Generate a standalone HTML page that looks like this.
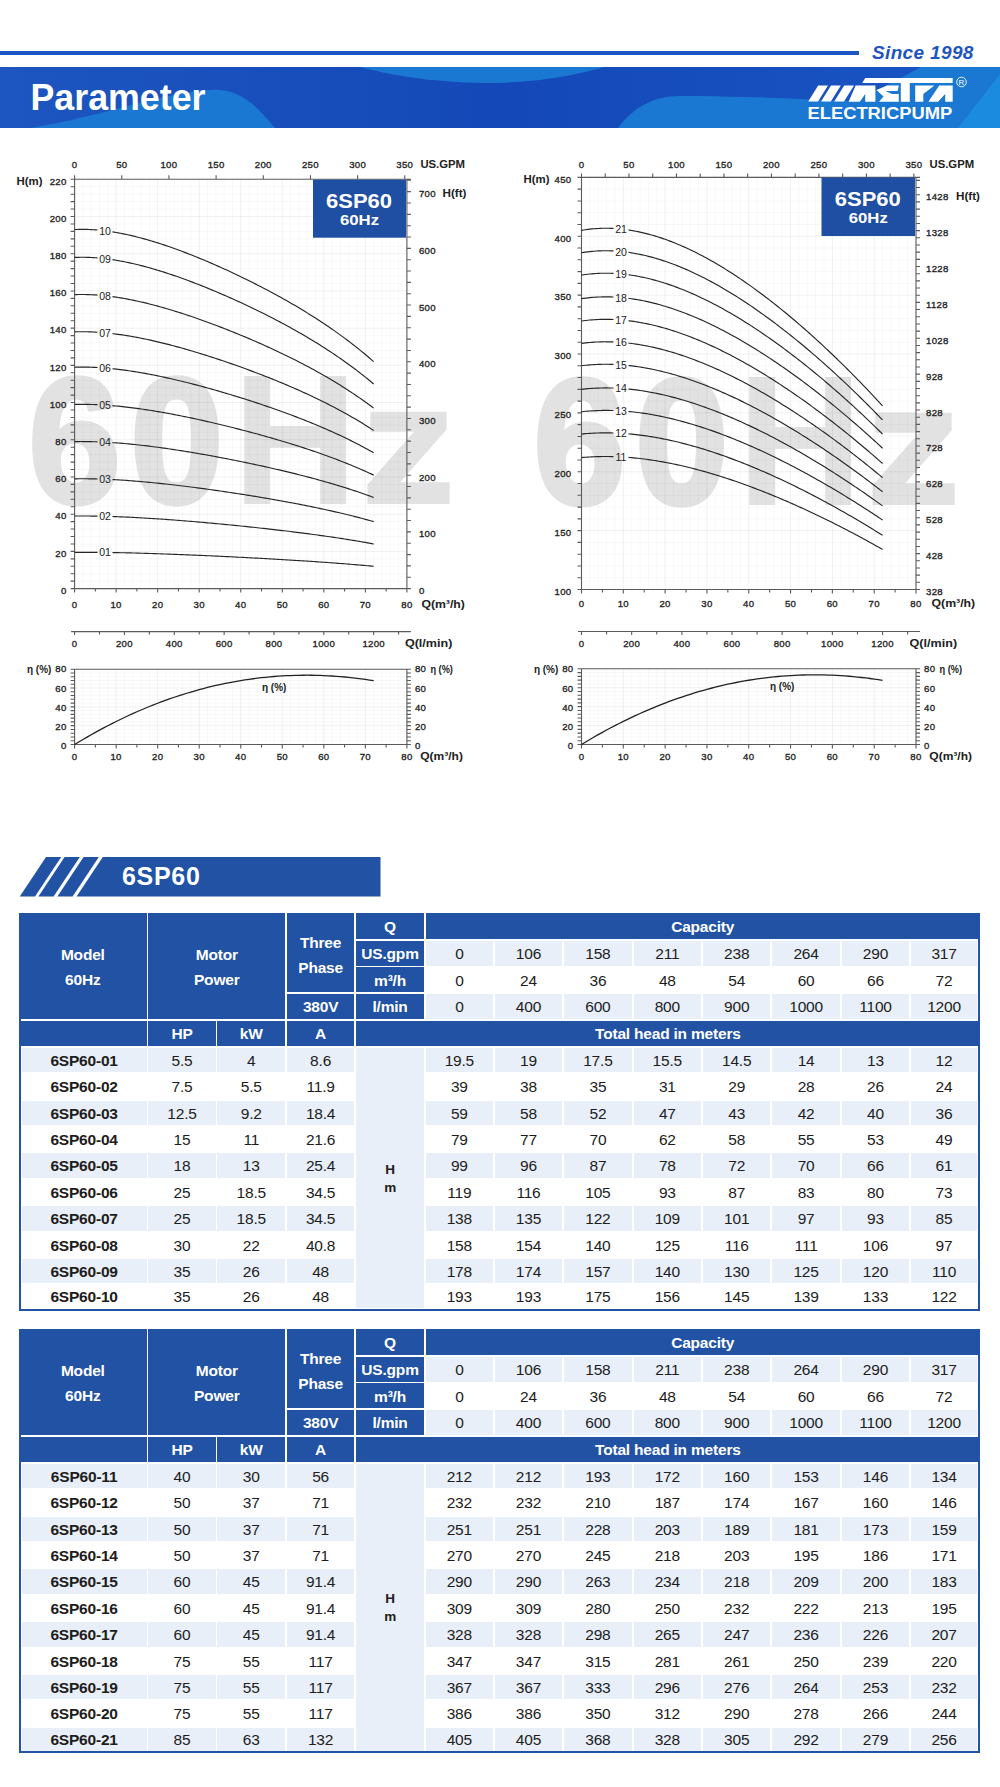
<!DOCTYPE html>
<html><head><meta charset="utf-8"><style>
html,body{margin:0;padding:0;background:#fff}
body{width:1000px;height:1787px;position:relative;overflow:hidden;font-family:"Liberation Sans",sans-serif}
.c{position:absolute;display:flex;align-items:center;justify-content:center;text-align:center;font-size:15.5px;line-height:18px;color:#211c1c;white-space:nowrap;box-sizing:border-box;padding-top:1.5px;letter-spacing:-0.2px}
</style></head><body>
<div style="position:absolute;left:0;top:51px;width:859px;height:3.5px;background:#1d55c2"></div>
<div style="position:absolute;left:872px;top:39.5px;font:italic bold 19px/26px 'Liberation Sans', sans-serif;color:#1e55c0;letter-spacing:0.35px;white-space:nowrap">Since 1998</div>
<svg style="position:absolute;left:0;top:67px" width="1000" height="61" viewBox="0 67 1000 61">
<defs><linearGradient id="bg" x1="0" y1="0" x2="1" y2="0"><stop offset="0" stop-color="#1d56c0"/><stop offset="0.5" stop-color="#1448b8"/><stop offset="1" stop-color="#1a55c4"/></linearGradient></defs>
<rect x="0" y="67" width="1000" height="61" fill="url(#bg)"/>
<path d="M30 128 C100 117 160 93 210 90 C242 88 258 108 275 128 Z" fill="#1a78d2"/>
<path d="M360 67 C400 78 450 83 488 83 C530 83 575 76 604 67 Z" fill="#1a78d2"/>
<path d="M618 128 C632 109 652 96 680 96 C740 96 800 99 850 101 C880 90 900 78 921 67 L1000 67 L1000 128 Z" fill="#1a78d2"/>
<path d="M958 128 L1000 74 L1000 128 Z" fill="#1b8be0"/>
</svg>
<svg style="position:absolute;left:0;top:67px" width="300" height="61" viewBox="0 67 300 61"><text x="30.5" y="110" font-family="Liberation Sans" font-weight="bold" font-size="37.5" fill="#fff" textLength="175" lengthAdjust="spacingAndGlyphs">Parameter</text></svg>
<svg style="position:absolute;left:800px;top:70px" width="180" height="55" viewBox="800 70 180 55">
<polygon points="808.2,101.6 818,101.6 828,85.6 818.2,85.6" fill="#fff"/><polygon points="821,101.6 830.8,101.6 840.8,85.6 831,85.6" fill="#fff"/><polygon points="834.2,101.6 844,101.6 854,85.6 844.2,85.6" fill="#fff"/><polygon points="862.2,82.95 865.2,78.1 952.7,78.1 952.7,82.95" fill="#fff"/><polygon points="848.6,101.8 855.6,85.6 875.4,85.6 875.4,101.8 865.2,101.8 865.2,94 859.8,101.8" fill="#fff"/><polygon points="887.2,85.6 898.8,85.6 897.6,91 885.6,91 892,94 898.8,94 898.8,101.8 879,101.8 883.5,96.5 876.5,90" fill="#fff"/><polygon points="900.8,82.9 909.8,82.9 909.8,101.8 900.8,101.8" fill="#fff"/><polygon points="915.2,85.6 934.4,85.6 923.3,94 923.3,101.8 915.2,101.8" fill="#fff"/><polygon points="939.2,85.6 952.7,85.6 952.7,101.8 945.2,101.8 945.2,94 938,101.8 928.4,101.8" fill="#fff"/>
<circle cx="961.5" cy="82" r="4.8" fill="none" stroke="#fff" stroke-width="0.9"/>
<text x="961.5" y="85" font-family="Liberation Sans" font-size="8" fill="#fff" text-anchor="middle">R</text>
</svg>
<svg style="position:absolute;left:800px;top:100px" width="200" height="25" viewBox="800 100 200 25"><text x="807.5" y="118.5" font-family="Liberation Sans" font-weight="bold" font-size="16" fill="#fff" textLength="144.7" lengthAdjust="spacingAndGlyphs">ELECTRICPUMP</text></svg>
<svg style="position:absolute;left:0;top:0" width="1000" height="800" viewBox="0 0 1000 800">
<text x="0" y="0" transform="matrix(0.93 0 0 1 28.56 501.56)" font-family="Liberation Sans" font-weight="bold" font-size="177.96" fill="#e2e2e2" stroke="#e2e2e2" stroke-width="5" stroke-linejoin="round">6</text><text x="0" y="0" transform="matrix(0.94 0 0 1 130.27 501.56)" font-family="Liberation Sans" font-weight="bold" font-size="177.96" fill="#e2e2e2" stroke="#e2e2e2" stroke-width="5" stroke-linejoin="round">0</text><polygon points="244.3,376 270.2,376 270.2,426 320.2,426 320.2,376 346.1,376 346.1,504.1 320.2,504.1 320.2,447.8 270.2,447.8 270.2,504.1 244.3,504.1" fill="#e2e2e2"/><polygon points="370.3,411.7 446.6,411.7 446.6,429.4 400.2,482.3 449.6,482.3 449.6,504.1 367.5,504.1 367.5,484.6 414,431.7 370.3,431.7" fill="#e2e2e2"/><path d="M82.91 179.3V588.6M91.21 179.3V588.6M99.52 179.3V588.6M107.83 179.3V588.6M124.44 179.3V588.6M132.75 179.3V588.6M141.06 179.3V588.6M149.37 179.3V588.6M165.98 179.3V588.6M174.29 179.3V588.6M182.6 179.3V588.6M190.9 179.3V588.6M207.52 179.3V588.6M215.83 179.3V588.6M224.13 179.3V588.6M232.44 179.3V588.6M249.06 179.3V588.6M257.37 179.3V588.6M265.67 179.3V588.6M273.98 179.3V588.6M290.59 179.3V588.6M298.9 179.3V588.6M307.21 179.3V588.6M315.52 179.3V588.6M332.13 179.3V588.6M340.44 179.3V588.6M348.75 179.3V588.6M357.05 179.3V588.6M373.67 179.3V588.6M381.98 179.3V588.6M390.28 179.3V588.6M398.59 179.3V588.6M74.6 581.16H406.9M74.6 573.72H406.9M74.6 566.27H406.9M74.6 558.83H406.9M74.6 543.95H406.9M74.6 536.51H406.9M74.6 529.07H406.9M74.6 521.62H406.9M74.6 506.74H406.9M74.6 499.3H406.9M74.6 491.86H406.9M74.6 484.41H406.9M74.6 469.53H406.9M74.6 462.09H406.9M74.6 454.65H406.9M74.6 447.21H406.9M74.6 432.32H406.9M74.6 424.88H406.9M74.6 417.44H406.9M74.6 410H406.9M74.6 395.11H406.9M74.6 387.67H406.9M74.6 380.23H406.9M74.6 372.79H406.9M74.6 357.9H406.9M74.6 350.46H406.9M74.6 343.02H406.9M74.6 335.58H406.9M74.6 320.69H406.9M74.6 313.25H406.9M74.6 305.81H406.9M74.6 298.37H406.9M74.6 283.49H406.9M74.6 276.04H406.9M74.6 268.6H406.9M74.6 261.16H406.9M74.6 246.28H406.9M74.6 238.83H406.9M74.6 231.39H406.9M74.6 223.95H406.9M74.6 209.07H406.9M74.6 201.63H406.9M74.6 194.18H406.9M74.6 186.74H406.9" stroke="#000" stroke-opacity="0.04" stroke-width="0.8" fill="none"/><path d="M116.14 179.3V588.6M157.67 179.3V588.6M199.21 179.3V588.6M240.75 179.3V588.6M282.29 179.3V588.6M323.82 179.3V588.6M365.36 179.3V588.6M74.6 551.39H406.9M74.6 514.18H406.9M74.6 476.97H406.9M74.6 439.76H406.9M74.6 402.55H406.9M74.6 365.35H406.9M74.6 328.14H406.9M74.6 290.93H406.9M74.6 253.72H406.9M74.6 216.51H406.9" stroke="#000" stroke-opacity="0.08" stroke-width="0.8" fill="none"/><path d="M70.6 179.3H410.9M70.6 588.6H406.9M74.6 179.3V592.6M406.9 179.3V592.6M70.6 588.6H74.6M70.6 581.16H74.6M70.6 573.72H74.6M70.6 566.27H74.6M70.6 558.83H74.6M70.6 551.39H74.6M70.6 543.95H74.6M70.6 536.51H74.6M70.6 529.07H74.6M70.6 521.62H74.6M70.6 514.18H74.6M70.6 506.74H74.6M70.6 499.3H74.6M70.6 491.86H74.6M70.6 484.41H74.6M70.6 476.97H74.6M70.6 469.53H74.6M70.6 462.09H74.6M70.6 454.65H74.6M70.6 447.21H74.6M70.6 439.76H74.6M70.6 432.32H74.6M70.6 424.88H74.6M70.6 417.44H74.6M70.6 410H74.6M70.6 402.55H74.6M70.6 395.11H74.6M70.6 387.67H74.6M70.6 380.23H74.6M70.6 372.79H74.6M70.6 365.35H74.6M70.6 357.9H74.6M70.6 350.46H74.6M70.6 343.02H74.6M70.6 335.58H74.6M70.6 328.14H74.6M70.6 320.69H74.6M70.6 313.25H74.6M70.6 305.81H74.6M70.6 298.37H74.6M70.6 290.93H74.6M70.6 283.49H74.6M70.6 276.04H74.6M70.6 268.6H74.6M70.6 261.16H74.6M70.6 253.72H74.6M70.6 246.28H74.6M70.6 238.83H74.6M70.6 231.39H74.6M70.6 223.95H74.6M70.6 216.51H74.6M70.6 209.07H74.6M70.6 201.63H74.6M70.6 194.18H74.6M70.6 186.74H74.6M70.6 179.3H74.6M74.6 588.6V592.6M95.37 588.6V591.6M116.14 588.6V592.6M136.91 588.6V591.6M157.67 588.6V592.6M178.44 588.6V591.6M199.21 588.6V592.6M219.98 588.6V591.6M240.75 588.6V592.6M261.52 588.6V591.6M282.29 588.6V592.6M303.06 588.6V591.6M323.82 588.6V592.6M344.59 588.6V591.6M365.36 588.6V592.6M386.13 588.6V591.6M406.9 588.6V592.6M74.6 175.3V179.3M121.77 175.3V179.3M168.94 175.3V179.3M216.11 175.3V179.3M263.28 175.3V179.3M310.45 175.3V179.3M357.63 175.3V179.3M404.8 175.3V179.3M406.9 588.6H410.9M406.9 577.26H410.9M406.9 565.92H410.9M406.9 554.58H410.9M406.9 543.23H410.9M406.9 531.89H410.9M406.9 520.55H410.9M406.9 509.21H410.9M406.9 497.87H410.9M406.9 486.53H410.9M406.9 475.19H410.9M406.9 463.85H410.9M406.9 452.5H410.9M406.9 441.16H410.9M406.9 429.82H410.9M406.9 418.48H410.9M406.9 407.14H410.9M406.9 395.8H410.9M406.9 384.46H410.9M406.9 373.11H410.9M406.9 361.77H410.9M406.9 350.43H410.9M406.9 339.09H410.9M406.9 327.75H410.9M406.9 316.41H410.9M406.9 305.07H410.9M406.9 293.73H410.9M406.9 282.38H410.9M406.9 271.04H410.9M406.9 259.7H410.9M406.9 248.36H410.9M406.9 237.02H410.9M406.9 225.68H410.9M406.9 214.34H410.9M406.9 202.99H410.9M406.9 191.65H410.9M406.9 180.31H410.9" stroke="#5a5a5a" stroke-width="1.1" fill="none"/><g font-family="Liberation Sans"><text x="74.6" y="608" text-anchor="middle" font-size="9.6" font-weight="normal" fill="#262626" letter-spacing="0.3" stroke="#262626" stroke-width="0.35">0</text><text x="116.14" y="608" text-anchor="middle" font-size="9.6" font-weight="normal" fill="#262626" letter-spacing="0.3" stroke="#262626" stroke-width="0.35">10</text><text x="157.67" y="608" text-anchor="middle" font-size="9.6" font-weight="normal" fill="#262626" letter-spacing="0.3" stroke="#262626" stroke-width="0.35">20</text><text x="199.21" y="608" text-anchor="middle" font-size="9.6" font-weight="normal" fill="#262626" letter-spacing="0.3" stroke="#262626" stroke-width="0.35">30</text><text x="240.75" y="608" text-anchor="middle" font-size="9.6" font-weight="normal" fill="#262626" letter-spacing="0.3" stroke="#262626" stroke-width="0.35">40</text><text x="282.29" y="608" text-anchor="middle" font-size="9.6" font-weight="normal" fill="#262626" letter-spacing="0.3" stroke="#262626" stroke-width="0.35">50</text><text x="323.82" y="608" text-anchor="middle" font-size="9.6" font-weight="normal" fill="#262626" letter-spacing="0.3" stroke="#262626" stroke-width="0.35">60</text><text x="365.36" y="608" text-anchor="middle" font-size="9.6" font-weight="normal" fill="#262626" letter-spacing="0.3" stroke="#262626" stroke-width="0.35">70</text><text x="406.9" y="608" text-anchor="middle" font-size="9.6" font-weight="normal" fill="#262626" letter-spacing="0.3" stroke="#262626" stroke-width="0.35">80</text><text x="421.4" y="608.3" text-anchor="start" font-size="11" font-weight="bold" fill="#222" textLength="43.5" lengthAdjust="spacingAndGlyphs">Q(m&#179;/h)</text><text x="66.6" y="593.9" text-anchor="end" font-size="9.6" font-weight="normal" fill="#262626" letter-spacing="0.3" stroke="#262626" stroke-width="0.35">0</text><text x="66.6" y="556.69" text-anchor="end" font-size="9.6" font-weight="normal" fill="#262626" letter-spacing="0.3" stroke="#262626" stroke-width="0.35">20</text><text x="66.6" y="519.48" text-anchor="end" font-size="9.6" font-weight="normal" fill="#262626" letter-spacing="0.3" stroke="#262626" stroke-width="0.35">40</text><text x="66.6" y="482.27" text-anchor="end" font-size="9.6" font-weight="normal" fill="#262626" letter-spacing="0.3" stroke="#262626" stroke-width="0.35">60</text><text x="66.6" y="445.06" text-anchor="end" font-size="9.6" font-weight="normal" fill="#262626" letter-spacing="0.3" stroke="#262626" stroke-width="0.35">80</text><text x="66.6" y="407.85" text-anchor="end" font-size="9.6" font-weight="normal" fill="#262626" letter-spacing="0.3" stroke="#262626" stroke-width="0.35">100</text><text x="66.6" y="370.65" text-anchor="end" font-size="9.6" font-weight="normal" fill="#262626" letter-spacing="0.3" stroke="#262626" stroke-width="0.35">120</text><text x="66.6" y="333.44" text-anchor="end" font-size="9.6" font-weight="normal" fill="#262626" letter-spacing="0.3" stroke="#262626" stroke-width="0.35">140</text><text x="66.6" y="296.23" text-anchor="end" font-size="9.6" font-weight="normal" fill="#262626" letter-spacing="0.3" stroke="#262626" stroke-width="0.35">160</text><text x="66.6" y="259.02" text-anchor="end" font-size="9.6" font-weight="normal" fill="#262626" letter-spacing="0.3" stroke="#262626" stroke-width="0.35">180</text><text x="66.6" y="221.81" text-anchor="end" font-size="9.6" font-weight="normal" fill="#262626" letter-spacing="0.3" stroke="#262626" stroke-width="0.35">200</text><text x="66.6" y="184.6" text-anchor="end" font-size="9.6" font-weight="normal" fill="#262626" letter-spacing="0.3" stroke="#262626" stroke-width="0.35">220</text><text x="16.5" y="184.6" text-anchor="start" font-size="11" font-weight="bold" fill="#222" textLength="26" lengthAdjust="spacingAndGlyphs">H(m)</text><text x="74.6" y="168.1" text-anchor="middle" font-size="9.6" font-weight="normal" fill="#262626" letter-spacing="0.3" stroke="#262626" stroke-width="0.35">0</text><text x="121.77" y="168.1" text-anchor="middle" font-size="9.6" font-weight="normal" fill="#262626" letter-spacing="0.3" stroke="#262626" stroke-width="0.35">50</text><text x="168.94" y="168.1" text-anchor="middle" font-size="9.6" font-weight="normal" fill="#262626" letter-spacing="0.3" stroke="#262626" stroke-width="0.35">100</text><text x="216.11" y="168.1" text-anchor="middle" font-size="9.6" font-weight="normal" fill="#262626" letter-spacing="0.3" stroke="#262626" stroke-width="0.35">150</text><text x="263.28" y="168.1" text-anchor="middle" font-size="9.6" font-weight="normal" fill="#262626" letter-spacing="0.3" stroke="#262626" stroke-width="0.35">200</text><text x="310.45" y="168.1" text-anchor="middle" font-size="9.6" font-weight="normal" fill="#262626" letter-spacing="0.3" stroke="#262626" stroke-width="0.35">250</text><text x="357.63" y="168.1" text-anchor="middle" font-size="9.6" font-weight="normal" fill="#262626" letter-spacing="0.3" stroke="#262626" stroke-width="0.35">300</text><text x="404.8" y="168.1" text-anchor="middle" font-size="9.6" font-weight="normal" fill="#262626" letter-spacing="0.3" stroke="#262626" stroke-width="0.35">350</text><text x="420.4" y="168.3" text-anchor="start" font-size="10.5" font-weight="bold" fill="#222" textLength="44.6" lengthAdjust="spacingAndGlyphs">US.GPM</text><text x="418.9" y="594.1" text-anchor="start" font-size="9.6" font-weight="normal" fill="#262626" letter-spacing="0.3" stroke="#262626" stroke-width="0.35">0</text><text x="418.9" y="537.39" text-anchor="start" font-size="9.6" font-weight="normal" fill="#262626" letter-spacing="0.3" stroke="#262626" stroke-width="0.35">100</text><text x="418.9" y="480.69" text-anchor="start" font-size="9.6" font-weight="normal" fill="#262626" letter-spacing="0.3" stroke="#262626" stroke-width="0.35">200</text><text x="418.9" y="423.98" text-anchor="start" font-size="9.6" font-weight="normal" fill="#262626" letter-spacing="0.3" stroke="#262626" stroke-width="0.35">300</text><text x="418.9" y="367.27" text-anchor="start" font-size="9.6" font-weight="normal" fill="#262626" letter-spacing="0.3" stroke="#262626" stroke-width="0.35">400</text><text x="418.9" y="310.57" text-anchor="start" font-size="9.6" font-weight="normal" fill="#262626" letter-spacing="0.3" stroke="#262626" stroke-width="0.35">500</text><text x="418.9" y="253.86" text-anchor="start" font-size="9.6" font-weight="normal" fill="#262626" letter-spacing="0.3" stroke="#262626" stroke-width="0.35">600</text><text x="418.9" y="197.15" text-anchor="start" font-size="9.6" font-weight="normal" fill="#262626" letter-spacing="0.3" stroke="#262626" stroke-width="0.35">700</text><text x="442.5" y="197.15" text-anchor="start" font-size="11" font-weight="bold" fill="#222" textLength="24" lengthAdjust="spacingAndGlyphs">H(ft)</text></g><path d="M74.6 552.32 L76.68 552.31 L78.75 552.31 L80.83 552.3 L82.91 552.3 L84.98 552.31 L87.06 552.31 L89.14 552.32 L91.21 552.33 L93.29 552.34 L95.37 552.36 L97.45 552.37 L97.5 552.37M112.5 552.57 L114.06 552.6 L116.14 552.63 L118.21 552.67 L120.29 552.71 L122.37 552.76 L124.44 552.8 L126.52 552.85 L128.6 552.89 L130.68 552.94 L132.75 553 L134.83 553.05 L136.91 553.1 L138.98 553.16 L141.06 553.22 L143.14 553.28 L145.21 553.34 L147.29 553.4 L149.37 553.46 L151.44 553.53 L153.52 553.59 L155.6 553.66 L157.67 553.73 L159.75 553.8 L161.83 553.87 L163.91 553.95 L165.98 554.02 L168.06 554.09 L170.14 554.17 L172.21 554.25 L174.29 554.33 L176.37 554.4 L178.44 554.48 L180.52 554.57 L182.6 554.65 L184.67 554.73 L186.75 554.82 L188.83 554.9 L190.9 554.99 L192.98 555.07 L195.06 555.16 L197.14 555.25 L199.21 555.34 L201.29 555.43 L203.37 555.52 L205.44 555.61 L207.52 555.71 L209.6 555.8 L211.67 555.9 L213.75 555.99 L215.83 556.09 L217.9 556.18 L219.98 556.28 L222.06 556.38 L224.13 556.48 L226.21 556.58 L228.29 556.68 L230.37 556.78 L232.44 556.88 L234.52 556.99 L236.6 557.09 L238.67 557.2 L240.75 557.3 L242.83 557.41 L244.9 557.51 L246.98 557.62 L249.06 557.73 L251.13 557.84 L253.21 557.95 L255.29 558.06 L257.37 558.17 L259.44 558.29 L261.52 558.4 L263.6 558.51 L265.67 558.63 L267.75 558.74 L269.83 558.86 L271.9 558.98 L273.98 559.1 L276.06 559.21 L278.13 559.33 L280.21 559.46 L282.29 559.58 L284.36 559.7 L286.44 559.83 L288.52 559.95 L290.59 560.08 L292.67 560.2 L294.75 560.33 L296.83 560.46 L298.9 560.59 L300.98 560.72 L303.06 560.86 L305.13 560.99 L307.21 561.12 L309.29 561.26 L311.36 561.4 L313.44 561.54 L315.52 561.68 L317.59 561.82 L319.67 561.96 L321.75 562.11 L323.82 562.25 L325.9 562.4 L327.98 562.55 L330.06 562.7 L332.13 562.85 L334.21 563 L336.29 563.16 L338.36 563.31 L340.44 563.47 L342.52 563.63 L344.59 563.79 L346.67 563.96 L348.75 564.12 L350.82 564.29 L352.9 564.46 L354.98 564.63 L357.05 564.81 L359.13 564.98 L361.21 565.16 L363.29 565.34 L365.36 565.52 L367.44 565.71 L369.52 565.89 L371.59 566.08 L373.67 566.27M74.6 516.04 L76.68 516.02 L78.75 516.01 L80.83 516.01 L82.91 516.01 L84.98 516.01 L87.06 516.02 L89.14 516.04 L91.21 516.06 L93.29 516.08 L95.37 516.11 L97.45 516.15 L97.5 516.15M112.5 516.54 L114.06 516.59 L116.14 516.67 L118.21 516.74 L120.29 516.83 L122.37 516.91 L124.44 517 L126.52 517.09 L128.6 517.19 L130.68 517.29 L132.75 517.39 L134.83 517.5 L136.91 517.61 L138.98 517.72 L141.06 517.84 L143.14 517.95 L145.21 518.08 L147.29 518.2 L149.37 518.33 L151.44 518.46 L153.52 518.59 L155.6 518.73 L157.67 518.86 L159.75 519 L161.83 519.15 L163.91 519.29 L165.98 519.44 L168.06 519.59 L170.14 519.74 L172.21 519.89 L174.29 520.05 L176.37 520.21 L178.44 520.37 L180.52 520.53 L182.6 520.7 L184.67 520.86 L186.75 521.03 L188.83 521.2 L190.9 521.37 L192.98 521.55 L195.06 521.72 L197.14 521.9 L199.21 522.08 L201.29 522.26 L203.37 522.44 L205.44 522.63 L207.52 522.81 L209.6 523 L211.67 523.19 L213.75 523.38 L215.83 523.57 L217.9 523.77 L219.98 523.96 L222.06 524.16 L224.13 524.36 L226.21 524.56 L228.29 524.76 L230.37 524.96 L232.44 525.17 L234.52 525.38 L236.6 525.58 L238.67 525.79 L240.75 526 L242.83 526.22 L244.9 526.43 L246.98 526.64 L249.06 526.86 L251.13 527.08 L253.21 527.3 L255.29 527.52 L257.37 527.75 L259.44 527.97 L261.52 528.2 L263.6 528.42 L265.67 528.65 L267.75 528.89 L269.83 529.12 L271.9 529.35 L273.98 529.59 L276.06 529.83 L278.13 530.07 L280.21 530.31 L282.29 530.56 L284.36 530.8 L286.44 531.05 L288.52 531.3 L290.59 531.55 L292.67 531.81 L294.75 532.06 L296.83 532.32 L298.9 532.58 L300.98 532.85 L303.06 533.11 L305.13 533.38 L307.21 533.65 L309.29 533.92 L311.36 534.2 L313.44 534.47 L315.52 534.75 L317.59 535.04 L319.67 535.32 L321.75 535.61 L323.82 535.9 L325.9 536.2 L327.98 536.49 L330.06 536.79 L332.13 537.1 L334.21 537.41 L336.29 537.72 L338.36 538.03 L340.44 538.35 L342.52 538.67 L344.59 538.99 L346.67 539.32 L348.75 539.65 L350.82 539.98 L352.9 540.32 L354.98 540.67 L357.05 541.01 L359.13 541.36 L361.21 541.72 L363.29 542.08 L365.36 542.44 L367.44 542.81 L369.52 543.19 L371.59 543.57 L373.67 543.95M74.6 478.83 L76.68 478.81 L78.75 478.79 L80.83 478.78 L82.91 478.78 L84.98 478.79 L87.06 478.8 L89.14 478.82 L91.21 478.86 L93.29 478.9 L95.37 478.94 L97.45 479 L97.5 479M112.5 479.59 L114.06 479.68 L116.14 479.79 L118.21 479.91 L120.29 480.03 L122.37 480.17 L124.44 480.3 L126.52 480.44 L128.6 480.59 L130.68 480.74 L132.75 480.9 L134.83 481.07 L136.91 481.23 L138.98 481.41 L141.06 481.58 L143.14 481.77 L145.21 481.95 L147.29 482.14 L149.37 482.34 L151.44 482.54 L153.52 482.74 L155.6 482.95 L157.67 483.16 L159.75 483.37 L161.83 483.59 L163.91 483.81 L165.98 484.04 L168.06 484.27 L170.14 484.5 L172.21 484.74 L174.29 484.98 L176.37 485.22 L178.44 485.47 L180.52 485.72 L182.6 485.97 L184.67 486.22 L186.75 486.48 L188.83 486.74 L190.9 487.01 L192.98 487.27 L195.06 487.54 L197.14 487.82 L199.21 488.09 L201.29 488.37 L203.37 488.65 L205.44 488.93 L207.52 489.22 L209.6 489.5 L211.67 489.79 L213.75 490.09 L215.83 490.38 L217.9 490.68 L219.98 490.98 L222.06 491.28 L224.13 491.59 L226.21 491.89 L228.29 492.2 L230.37 492.51 L232.44 492.83 L234.52 493.14 L236.6 493.46 L238.67 493.78 L240.75 494.11 L242.83 494.43 L244.9 494.76 L246.98 495.09 L249.06 495.42 L251.13 495.76 L253.21 496.1 L255.29 496.44 L257.37 496.78 L259.44 497.12 L261.52 497.47 L263.6 497.82 L265.67 498.17 L267.75 498.53 L269.83 498.88 L271.9 499.24 L273.98 499.61 L276.06 499.97 L278.13 500.34 L280.21 500.71 L282.29 501.09 L284.36 501.47 L286.44 501.85 L288.52 502.23 L290.59 502.62 L292.67 503.01 L294.75 503.4 L296.83 503.8 L298.9 504.19 L300.98 504.6 L303.06 505.01 L305.13 505.42 L307.21 505.83 L309.29 506.25 L311.36 506.67 L313.44 507.1 L315.52 507.52 L317.59 507.96 L319.67 508.4 L321.75 508.84 L323.82 509.29 L325.9 509.74 L327.98 510.19 L330.06 510.65 L332.13 511.12 L334.21 511.59 L336.29 512.07 L338.36 512.55 L340.44 513.03 L342.52 513.52 L344.59 514.02 L346.67 514.52 L348.75 515.03 L350.82 515.54 L352.9 516.06 L354.98 516.59 L357.05 517.12 L359.13 517.66 L361.21 518.21 L363.29 518.76 L365.36 519.32 L367.44 519.88 L369.52 520.46 L371.59 521.04 L373.67 521.62M74.6 441.62 L76.68 441.59 L78.75 441.57 L80.83 441.55 L82.91 441.55 L84.98 441.56 L87.06 441.58 L89.14 441.61 L91.21 441.65 L93.29 441.71 L95.37 441.77 L97.45 441.84 L97.5 441.84M112.5 442.62 L114.06 442.72 L116.14 442.87 L118.21 443.03 L120.29 443.19 L122.37 443.36 L124.44 443.54 L126.52 443.73 L128.6 443.92 L130.68 444.12 L132.75 444.32 L134.83 444.54 L136.91 444.75 L138.98 444.98 L141.06 445.21 L143.14 445.45 L145.21 445.69 L147.29 445.94 L149.37 446.19 L151.44 446.45 L153.52 446.72 L155.6 446.99 L157.67 447.27 L159.75 447.55 L161.83 447.83 L163.91 448.12 L165.98 448.42 L168.06 448.72 L170.14 449.02 L172.21 449.33 L174.29 449.64 L176.37 449.96 L178.44 450.28 L180.52 450.6 L182.6 450.93 L184.67 451.27 L186.75 451.6 L188.83 451.94 L190.9 452.29 L192.98 452.63 L195.06 452.99 L197.14 453.34 L199.21 453.7 L201.29 454.06 L203.37 454.43 L205.44 454.8 L207.52 455.17 L209.6 455.54 L211.67 455.92 L213.75 456.3 L215.83 456.69 L217.9 457.08 L219.98 457.47 L222.06 457.86 L224.13 458.26 L226.21 458.66 L228.29 459.06 L230.37 459.47 L232.44 459.88 L234.52 460.29 L236.6 460.71 L238.67 461.12 L240.75 461.55 L242.83 461.97 L244.9 462.4 L246.98 462.83 L249.06 463.26 L251.13 463.7 L253.21 464.14 L255.29 464.58 L257.37 465.03 L259.44 465.48 L261.52 465.93 L263.6 466.39 L265.67 466.85 L267.75 467.31 L269.83 467.78 L271.9 468.25 L273.98 468.72 L276.06 469.2 L278.13 469.68 L280.21 470.16 L282.29 470.65 L284.36 471.14 L286.44 471.64 L288.52 472.14 L290.59 472.65 L292.67 473.15 L294.75 473.67 L296.83 474.18 L298.9 474.7 L300.98 475.23 L303.06 475.76 L305.13 476.3 L307.21 476.84 L309.29 477.38 L311.36 477.93 L313.44 478.49 L315.52 479.05 L317.59 479.61 L319.67 480.19 L321.75 480.76 L323.82 481.35 L325.9 481.93 L327.98 482.53 L330.06 483.13 L332.13 483.74 L334.21 484.35 L336.29 484.97 L338.36 485.6 L340.44 486.23 L342.52 486.87 L344.59 487.52 L346.67 488.17 L348.75 488.84 L350.82 489.51 L352.9 490.19 L354.98 490.87 L357.05 491.57 L359.13 492.27 L361.21 492.98 L363.29 493.7 L365.36 494.43 L367.44 495.17 L369.52 495.91 L371.59 496.67 L373.67 497.44M74.6 404.42 L76.68 404.37 L78.75 404.34 L80.83 404.33 L82.91 404.32 L84.98 404.34 L87.06 404.36 L89.14 404.4 L91.21 404.45 L93.29 404.52 L95.37 404.59 L97.45 404.68 L97.5 404.69M112.5 405.67 L114.06 405.81 L116.14 405.99 L118.21 406.19 L120.29 406.4 L122.37 406.62 L124.44 406.84 L126.52 407.08 L128.6 407.32 L130.68 407.57 L132.75 407.83 L134.83 408.1 L136.91 408.38 L138.98 408.67 L141.06 408.96 L143.14 409.26 L145.21 409.57 L147.29 409.88 L149.37 410.2 L151.44 410.53 L153.52 410.87 L155.6 411.21 L157.67 411.56 L159.75 411.92 L161.83 412.28 L163.91 412.64 L165.98 413.02 L168.06 413.4 L170.14 413.78 L172.21 414.17 L174.29 414.57 L176.37 414.97 L178.44 415.38 L180.52 415.79 L182.6 416.21 L184.67 416.63 L186.75 417.05 L188.83 417.49 L190.9 417.92 L192.98 418.36 L195.06 418.81 L197.14 419.26 L199.21 419.71 L201.29 420.17 L203.37 420.63 L205.44 421.1 L207.52 421.57 L209.6 422.05 L211.67 422.53 L213.75 423.01 L215.83 423.5 L217.9 423.99 L219.98 424.48 L222.06 424.98 L224.13 425.49 L226.21 425.99 L228.29 426.5 L230.37 427.02 L232.44 427.54 L234.52 428.06 L236.6 428.59 L238.67 429.12 L240.75 429.65 L242.83 430.19 L244.9 430.73 L246.98 431.27 L249.06 431.82 L251.13 432.38 L253.21 432.94 L255.29 433.5 L257.37 434.06 L259.44 434.63 L261.52 435.21 L263.6 435.78 L265.67 436.37 L267.75 436.95 L269.83 437.54 L271.9 438.14 L273.98 438.74 L276.06 439.34 L278.13 439.95 L280.21 440.57 L282.29 441.18 L284.36 441.81 L286.44 442.44 L288.52 443.07 L290.59 443.71 L292.67 444.35 L294.75 445 L296.83 445.66 L298.9 446.32 L300.98 446.98 L303.06 447.66 L305.13 448.33 L307.21 449.02 L309.29 449.71 L311.36 450.41 L313.44 451.11 L315.52 451.82 L317.59 452.54 L319.67 453.26 L321.75 453.99 L323.82 454.73 L325.9 455.47 L327.98 456.23 L330.06 456.99 L332.13 457.76 L334.21 458.53 L336.29 459.32 L338.36 460.11 L340.44 460.92 L342.52 461.73 L344.59 462.55 L346.67 463.38 L348.75 464.22 L350.82 465.07 L352.9 465.93 L354.98 466.8 L357.05 467.68 L359.13 468.57 L361.21 469.47 L363.29 470.38 L365.36 471.3 L367.44 472.24 L369.52 473.18 L371.59 474.14 L373.67 475.11M74.6 367.21 L76.68 367.15 L78.75 367.12 L80.83 367.1 L82.91 367.1 L84.98 367.11 L87.06 367.14 L89.14 367.19 L91.21 367.25 L93.29 367.33 L95.37 367.42 L97.45 367.53 L97.5 367.53M112.5 368.73 L114.06 368.89 L116.14 369.12 L118.21 369.36 L120.29 369.61 L122.37 369.87 L124.44 370.14 L126.52 370.43 L128.6 370.72 L130.68 371.03 L132.75 371.35 L134.83 371.67 L136.91 372.01 L138.98 372.35 L141.06 372.71 L143.14 373.07 L145.21 373.44 L147.29 373.82 L149.37 374.21 L151.44 374.61 L153.52 375.02 L155.6 375.43 L157.67 375.86 L159.75 376.29 L161.83 376.72 L163.91 377.17 L165.98 377.62 L168.06 378.08 L170.14 378.55 L172.21 379.02 L174.29 379.5 L176.37 379.98 L178.44 380.48 L180.52 380.97 L182.6 381.48 L184.67 381.99 L186.75 382.51 L188.83 383.03 L190.9 383.56 L192.98 384.09 L195.06 384.63 L197.14 385.17 L199.21 385.72 L201.29 386.28 L203.37 386.84 L205.44 387.4 L207.52 387.97 L209.6 388.55 L211.67 389.13 L213.75 389.71 L215.83 390.3 L217.9 390.9 L219.98 391.5 L222.06 392.1 L224.13 392.71 L226.21 393.33 L228.29 393.94 L230.37 394.57 L232.44 395.2 L234.52 395.83 L236.6 396.47 L238.67 397.11 L240.75 397.75 L242.83 398.4 L244.9 399.06 L246.98 399.72 L249.06 400.39 L251.13 401.06 L253.21 401.73 L255.29 402.41 L257.37 403.09 L259.44 403.78 L261.52 404.48 L263.6 405.18 L265.67 405.88 L267.75 406.59 L269.83 407.31 L271.9 408.03 L273.98 408.76 L276.06 409.49 L278.13 410.22 L280.21 410.97 L282.29 411.72 L284.36 412.47 L286.44 413.23 L288.52 414 L290.59 414.77 L292.67 415.55 L294.75 416.34 L296.83 417.13 L298.9 417.93 L300.98 418.74 L303.06 419.55 L305.13 420.37 L307.21 421.2 L309.29 422.03 L311.36 422.88 L313.44 423.73 L315.52 424.59 L317.59 425.46 L319.67 426.33 L321.75 427.22 L323.82 428.11 L325.9 429.01 L327.98 429.93 L330.06 430.85 L332.13 431.78 L334.21 432.72 L336.29 433.67 L338.36 434.63 L340.44 435.6 L342.52 436.59 L344.59 437.58 L346.67 438.58 L348.75 439.6 L350.82 440.63 L352.9 441.67 L354.98 442.72 L357.05 443.78 L359.13 444.86 L361.21 445.95 L363.29 447.06 L365.36 448.17 L367.44 449.31 L369.52 450.45 L371.59 451.61 L373.67 452.79M74.6 331.86 L76.68 331.8 L78.75 331.75 L80.83 331.73 L82.91 331.73 L84.98 331.75 L87.06 331.78 L89.14 331.84 L91.21 331.91 L93.29 332 L95.37 332.11 L97.45 332.23 L97.5 332.24M112.5 333.61 L114.06 333.8 L116.14 334.06 L118.21 334.34 L120.29 334.62 L122.37 334.93 L124.44 335.24 L126.52 335.57 L128.6 335.91 L130.68 336.26 L132.75 336.63 L134.83 337 L136.91 337.39 L138.98 337.79 L141.06 338.19 L143.14 338.61 L145.21 339.04 L147.29 339.48 L149.37 339.93 L151.44 340.39 L153.52 340.86 L155.6 341.34 L157.67 341.82 L159.75 342.32 L161.83 342.82 L163.91 343.34 L165.98 343.86 L168.06 344.39 L170.14 344.92 L172.21 345.47 L174.29 346.02 L176.37 346.58 L178.44 347.15 L180.52 347.72 L182.6 348.3 L184.67 348.89 L186.75 349.48 L188.83 350.09 L190.9 350.69 L192.98 351.31 L195.06 351.93 L197.14 352.56 L199.21 353.19 L201.29 353.83 L203.37 354.48 L205.44 355.13 L207.52 355.79 L209.6 356.45 L211.67 357.12 L213.75 357.79 L215.83 358.47 L217.9 359.16 L219.98 359.85 L222.06 360.54 L224.13 361.25 L226.21 361.95 L228.29 362.67 L230.37 363.38 L232.44 364.11 L234.52 364.83 L236.6 365.57 L238.67 366.31 L240.75 367.05 L242.83 367.8 L244.9 368.56 L246.98 369.32 L249.06 370.09 L251.13 370.86 L253.21 371.64 L255.29 372.42 L257.37 373.21 L259.44 374 L261.52 374.8 L263.6 375.61 L265.67 376.42 L267.75 377.24 L269.83 378.06 L271.9 378.89 L273.98 379.73 L276.06 380.57 L278.13 381.42 L280.21 382.28 L282.29 383.14 L284.36 384.01 L286.44 384.89 L288.52 385.77 L290.59 386.66 L292.67 387.56 L294.75 388.46 L296.83 389.38 L298.9 390.3 L300.98 391.23 L303.06 392.17 L305.13 393.11 L307.21 394.07 L309.29 395.03 L311.36 396 L313.44 396.98 L315.52 397.97 L317.59 398.97 L319.67 399.98 L321.75 401 L323.82 402.03 L325.9 403.07 L327.98 404.12 L330.06 405.18 L332.13 406.26 L334.21 407.34 L336.29 408.44 L338.36 409.54 L340.44 410.66 L342.52 411.79 L344.59 412.94 L346.67 414.1 L348.75 415.27 L350.82 416.45 L352.9 417.65 L354.98 418.86 L357.05 420.09 L359.13 421.33 L361.21 422.59 L363.29 423.86 L365.36 425.15 L367.44 426.45 L369.52 427.77 L371.59 429.11 L373.67 430.46M74.6 294.65 L76.68 294.58 L78.75 294.53 L80.83 294.5 L82.91 294.5 L84.98 294.52 L87.06 294.56 L89.14 294.63 L91.21 294.71 L93.29 294.81 L95.37 294.94 L97.45 295.08 L97.5 295.08M112.5 296.67 L114.06 296.88 L116.14 297.18 L118.21 297.5 L120.29 297.83 L122.37 298.18 L124.44 298.54 L126.52 298.92 L128.6 299.31 L130.68 299.72 L132.75 300.14 L134.83 300.57 L136.91 301.01 L138.98 301.47 L141.06 301.94 L143.14 302.42 L145.21 302.92 L147.29 303.42 L149.37 303.94 L151.44 304.47 L153.52 305.01 L155.6 305.56 L157.67 306.12 L159.75 306.69 L161.83 307.27 L163.91 307.86 L165.98 308.46 L168.06 309.07 L170.14 309.69 L172.21 310.31 L174.29 310.95 L176.37 311.59 L178.44 312.24 L180.52 312.91 L182.6 313.57 L184.67 314.25 L186.75 314.94 L188.83 315.63 L190.9 316.33 L192.98 317.04 L195.06 317.75 L197.14 318.47 L199.21 319.2 L201.29 319.94 L203.37 320.68 L205.44 321.43 L207.52 322.19 L209.6 322.95 L211.67 323.72 L213.75 324.5 L215.83 325.28 L217.9 326.07 L219.98 326.86 L222.06 327.66 L224.13 328.47 L226.21 329.29 L228.29 330.11 L230.37 330.93 L232.44 331.76 L234.52 332.6 L236.6 333.45 L238.67 334.3 L240.75 335.16 L242.83 336.02 L244.9 336.89 L246.98 337.77 L249.06 338.65 L251.13 339.54 L253.21 340.43 L255.29 341.33 L257.37 342.24 L259.44 343.15 L261.52 344.08 L263.6 345 L265.67 345.94 L267.75 346.88 L269.83 347.83 L271.9 348.78 L273.98 349.75 L276.06 350.72 L278.13 351.69 L280.21 352.68 L282.29 353.67 L284.36 354.67 L286.44 355.68 L288.52 356.7 L290.59 357.72 L292.67 358.76 L294.75 359.8 L296.83 360.85 L298.9 361.91 L300.98 362.98 L303.06 364.06 L305.13 365.15 L307.21 366.25 L309.29 367.36 L311.36 368.47 L313.44 369.6 L315.52 370.74 L317.59 371.89 L319.67 373.06 L321.75 374.23 L323.82 375.41 L325.9 376.61 L327.98 377.82 L330.06 379.04 L332.13 380.28 L334.21 381.52 L336.29 382.79 L338.36 384.06 L340.44 385.35 L342.52 386.65 L344.59 387.97 L346.67 389.3 L348.75 390.65 L350.82 392.01 L352.9 393.39 L354.98 394.79 L357.05 396.2 L359.13 397.63 L361.21 399.07 L363.29 400.54 L365.36 402.02 L367.44 403.52 L369.52 405.04 L371.59 406.58 L373.67 408.14M74.6 257.44 L76.68 257.36 L78.75 257.31 L80.83 257.28 L82.91 257.28 L84.98 257.3 L87.06 257.34 L89.14 257.41 L91.21 257.51 L93.29 257.62 L95.37 257.76 L97.45 257.92 L97.5 257.92M112.5 259.69 L114.06 259.93 L116.14 260.26 L118.21 260.62 L120.29 260.99 L122.37 261.38 L124.44 261.78 L126.52 262.2 L128.6 262.64 L130.68 263.09 L132.75 263.56 L134.83 264.04 L136.91 264.54 L138.98 265.05 L141.06 265.57 L143.14 266.11 L145.21 266.66 L147.29 267.22 L149.37 267.8 L151.44 268.39 L153.52 268.99 L155.6 269.6 L157.67 270.23 L159.75 270.86 L161.83 271.51 L163.91 272.17 L165.98 272.83 L168.06 273.51 L170.14 274.2 L172.21 274.9 L174.29 275.61 L176.37 276.33 L178.44 277.05 L180.52 277.79 L182.6 278.54 L184.67 279.29 L186.75 280.06 L188.83 280.83 L190.9 281.61 L192.98 282.4 L195.06 283.19 L197.14 284 L199.21 284.81 L201.29 285.63 L203.37 286.46 L205.44 287.3 L207.52 288.14 L209.6 288.99 L211.67 289.85 L213.75 290.71 L215.83 291.58 L217.9 292.46 L219.98 293.35 L222.06 294.24 L224.13 295.14 L226.21 296.05 L228.29 296.97 L230.37 297.89 L232.44 298.82 L234.52 299.75 L236.6 300.69 L238.67 301.64 L240.75 302.6 L242.83 303.56 L244.9 304.53 L246.98 305.5 L249.06 306.49 L251.13 307.48 L253.21 308.48 L255.29 309.48 L257.37 310.49 L259.44 311.51 L261.52 312.54 L263.6 313.57 L265.67 314.61 L267.75 315.66 L269.83 316.72 L271.9 317.79 L273.98 318.86 L276.06 319.94 L278.13 321.03 L280.21 322.13 L282.29 323.24 L284.36 324.35 L286.44 325.48 L288.52 326.61 L290.59 327.75 L292.67 328.91 L294.75 330.07 L296.83 331.24 L298.9 332.42 L300.98 333.61 L303.06 334.82 L305.13 336.03 L307.21 337.25 L309.29 338.49 L311.36 339.74 L313.44 341 L315.52 342.27 L317.59 343.55 L319.67 344.84 L321.75 346.15 L323.82 347.47 L325.9 348.81 L327.98 350.16 L330.06 351.52 L332.13 352.89 L334.21 354.28 L336.29 355.69 L338.36 357.11 L340.44 358.55 L342.52 360 L344.59 361.47 L346.67 362.95 L348.75 364.46 L350.82 365.98 L352.9 367.51 L354.98 369.07 L357.05 370.64 L359.13 372.23 L361.21 373.85 L363.29 375.48 L365.36 377.13 L367.44 378.8 L369.52 380.5 L371.59 382.21 L373.67 383.95M74.6 229.53 L76.68 229.45 L78.75 229.39 L80.83 229.37 L82.91 229.36 L84.98 229.39 L87.06 229.43 L89.14 229.51 L91.21 229.6 L93.29 229.72 L95.37 229.87 L97.45 230.03 L97.5 230.04M112.5 231.88 L114.06 232.13 L116.14 232.48 L118.21 232.85 L120.29 233.24 L122.37 233.64 L124.44 234.07 L126.52 234.51 L128.6 234.96 L130.68 235.43 L132.75 235.92 L134.83 236.42 L136.91 236.94 L138.98 237.47 L141.06 238.02 L143.14 238.58 L145.21 239.16 L147.29 239.75 L149.37 240.35 L151.44 240.96 L153.52 241.59 L155.6 242.23 L157.67 242.88 L159.75 243.55 L161.83 244.22 L163.91 244.91 L165.98 245.61 L168.06 246.31 L170.14 247.03 L172.21 247.76 L174.29 248.5 L176.37 249.25 L178.44 250.01 L180.52 250.78 L182.6 251.56 L184.67 252.35 L186.75 253.15 L188.83 253.95 L190.9 254.77 L192.98 255.59 L195.06 256.42 L197.14 257.26 L199.21 258.11 L201.29 258.97 L203.37 259.83 L205.44 260.71 L207.52 261.59 L209.6 262.47 L211.67 263.37 L213.75 264.27 L215.83 265.18 L217.9 266.1 L219.98 267.03 L222.06 267.96 L224.13 268.9 L226.21 269.85 L228.29 270.8 L230.37 271.76 L232.44 272.73 L234.52 273.71 L236.6 274.69 L238.67 275.68 L240.75 276.68 L242.83 277.69 L244.9 278.7 L246.98 279.72 L249.06 280.74 L251.13 281.78 L253.21 282.82 L255.29 283.87 L257.37 284.93 L259.44 285.99 L261.52 287.06 L263.6 288.14 L265.67 289.23 L267.75 290.33 L269.83 291.43 L271.9 292.54 L273.98 293.66 L276.06 294.79 L278.13 295.93 L280.21 297.08 L282.29 298.23 L284.36 299.4 L286.44 300.57 L288.52 301.76 L290.59 302.95 L292.67 304.15 L294.75 305.37 L296.83 306.59 L298.9 307.82 L300.98 309.07 L303.06 310.32 L305.13 311.59 L307.21 312.87 L309.29 314.16 L311.36 315.46 L313.44 316.78 L315.52 318.1 L317.59 319.44 L319.67 320.79 L321.75 322.16 L323.82 323.54 L325.9 324.93 L327.98 326.34 L330.06 327.76 L332.13 329.2 L334.21 330.65 L336.29 332.12 L338.36 333.6 L340.44 335.1 L342.52 336.62 L344.59 338.15 L346.67 339.7 L348.75 341.27 L350.82 342.86 L352.9 344.46 L354.98 346.09 L357.05 347.73 L359.13 349.39 L361.21 351.08 L363.29 352.78 L365.36 354.5 L367.44 356.25 L369.52 358.02 L371.59 359.81 L373.67 361.62" stroke="#262626" stroke-width="1.15" fill="none" stroke-linejoin="round"/><g font-family="Liberation Sans" font-size="10.5" fill="#222"><text x="105" y="556.46" text-anchor="middle">01</text><text x="105" y="520.33" text-anchor="middle">02</text><text x="105" y="483.27" text-anchor="middle">03</text><text x="105" y="446.2" text-anchor="middle">04</text><text x="105" y="409.14" text-anchor="middle">05</text><text x="105" y="372.08" text-anchor="middle">06</text><text x="105" y="336.87" text-anchor="middle">07</text><text x="105" y="299.81" text-anchor="middle">08</text><text x="105" y="262.74" text-anchor="middle">09</text><text x="105" y="234.89" text-anchor="middle">10</text></g><rect x="313" y="179.7" width="93" height="58" fill="#1f4fa2"/><text x="326" y="207.7" font-family="Liberation Sans" font-weight="bold" font-size="20.5" fill="#fff" textLength="66" lengthAdjust="spacingAndGlyphs">6SP60</text><text x="340" y="224.7" font-family="Liberation Sans" font-weight="bold" font-size="15" fill="#fff" textLength="39" lengthAdjust="spacingAndGlyphs">60Hz</text><path d="M71.1 631.6H410.9M74.6 631.6V635.1M99.52 631.6V634.6M124.44 631.6V635.1M149.37 631.6V634.6M174.29 631.6V635.1M199.21 631.6V634.6M224.13 631.6V635.1M249.06 631.6V634.6M273.98 631.6V635.1M298.9 631.6V634.6M323.82 631.6V635.1M348.75 631.6V634.6M373.67 631.6V635.1M398.59 631.6V634.6" stroke="#5a5a5a" stroke-width="1.1" fill="none"/><path d="M82.91 669.2V744.5M91.21 669.2V744.5M99.52 669.2V744.5M107.83 669.2V744.5M124.44 669.2V744.5M132.75 669.2V744.5M141.06 669.2V744.5M149.37 669.2V744.5M165.98 669.2V744.5M174.29 669.2V744.5M182.6 669.2V744.5M190.9 669.2V744.5M207.52 669.2V744.5M215.83 669.2V744.5M224.13 669.2V744.5M232.44 669.2V744.5M249.06 669.2V744.5M257.37 669.2V744.5M265.67 669.2V744.5M273.98 669.2V744.5M290.59 669.2V744.5M298.9 669.2V744.5M307.21 669.2V744.5M315.52 669.2V744.5M332.13 669.2V744.5M340.44 669.2V744.5M348.75 669.2V744.5M357.05 669.2V744.5M373.67 669.2V744.5M381.98 669.2V744.5M390.28 669.2V744.5M398.59 669.2V744.5M74.6 740.74H406.9M74.6 736.97H406.9M74.6 733.21H406.9M74.6 729.44H406.9M74.6 721.91H406.9M74.6 718.14H406.9M74.6 714.38H406.9M74.6 710.62H406.9M74.6 703.09H406.9M74.6 699.32H406.9M74.6 695.56H406.9M74.6 691.79H406.9M74.6 684.26H406.9M74.6 680.5H406.9M74.6 676.73H406.9M74.6 672.97H406.9" stroke="#000" stroke-opacity="0.04" stroke-width="0.8" fill="none"/><path d="M116.14 669.2V744.5M157.67 669.2V744.5M199.21 669.2V744.5M240.75 669.2V744.5M282.29 669.2V744.5M323.82 669.2V744.5M365.36 669.2V744.5M74.6 725.67H406.9M74.6 706.85H406.9M74.6 688.03H406.9" stroke="#000" stroke-opacity="0.08" stroke-width="0.8" fill="none"/><path d="M70.6 669.2H410.9M70.6 744.5H410.9M74.6 669.2V748.5M406.9 669.2V744.5M70.6 744.5H74.6M406.9 744.5H410.9M70.6 740.74H74.6M406.9 740.74H410.9M70.6 736.97H74.6M406.9 736.97H410.9M70.6 733.21H74.6M406.9 733.21H410.9M70.6 729.44H74.6M406.9 729.44H410.9M70.6 725.67H74.6M406.9 725.67H410.9M70.6 721.91H74.6M406.9 721.91H410.9M70.6 718.14H74.6M406.9 718.14H410.9M70.6 714.38H74.6M406.9 714.38H410.9M70.6 710.62H74.6M406.9 710.62H410.9M70.6 706.85H74.6M406.9 706.85H410.9M70.6 703.09H74.6M406.9 703.09H410.9M70.6 699.32H74.6M406.9 699.32H410.9M70.6 695.56H74.6M406.9 695.56H410.9M70.6 691.79H74.6M406.9 691.79H410.9M70.6 688.03H74.6M406.9 688.03H410.9M70.6 684.26H74.6M406.9 684.26H410.9M70.6 680.5H74.6M406.9 680.5H410.9M70.6 676.73H74.6M406.9 676.73H410.9M70.6 672.97H74.6M406.9 672.97H410.9M70.6 669.2H74.6M406.9 669.2H410.9M74.6 744.5V748.5M95.37 744.5V747.5M116.14 744.5V748.5M136.91 744.5V747.5M157.67 744.5V748.5M178.44 744.5V747.5M199.21 744.5V748.5M219.98 744.5V747.5M240.75 744.5V748.5M261.52 744.5V747.5M282.29 744.5V748.5M303.06 744.5V747.5M323.82 744.5V748.5M344.59 744.5V747.5M365.36 744.5V748.5M386.13 744.5V747.5M406.9 744.5V748.5" stroke="#5a5a5a" stroke-width="1.1" fill="none"/><g font-family="Liberation Sans"><text x="74.6" y="647.1" text-anchor="middle" font-size="9.6" font-weight="normal" fill="#262626" letter-spacing="0.3" stroke="#262626" stroke-width="0.35">0</text><text x="124.44" y="647.1" text-anchor="middle" font-size="9.6" font-weight="normal" fill="#262626" letter-spacing="0.3" stroke="#262626" stroke-width="0.35">200</text><text x="174.29" y="647.1" text-anchor="middle" font-size="9.6" font-weight="normal" fill="#262626" letter-spacing="0.3" stroke="#262626" stroke-width="0.35">400</text><text x="224.13" y="647.1" text-anchor="middle" font-size="9.6" font-weight="normal" fill="#262626" letter-spacing="0.3" stroke="#262626" stroke-width="0.35">600</text><text x="273.98" y="647.1" text-anchor="middle" font-size="9.6" font-weight="normal" fill="#262626" letter-spacing="0.3" stroke="#262626" stroke-width="0.35">800</text><text x="323.82" y="647.1" text-anchor="middle" font-size="9.6" font-weight="normal" fill="#262626" letter-spacing="0.3" stroke="#262626" stroke-width="0.35">1000</text><text x="373.67" y="647.1" text-anchor="middle" font-size="9.6" font-weight="normal" fill="#262626" letter-spacing="0.3" stroke="#262626" stroke-width="0.35">1200</text><text x="404.9" y="647.1" text-anchor="start" font-size="11" font-weight="bold" fill="#222" textLength="47.5" lengthAdjust="spacingAndGlyphs">Q(l/min)</text><text x="66.6" y="748.5" text-anchor="end" font-size="9.6" font-weight="normal" fill="#262626" letter-spacing="0.3" stroke="#262626" stroke-width="0.35">0</text><text x="414.9" y="748.5" text-anchor="start" font-size="9.6" font-weight="normal" fill="#262626" letter-spacing="0.3" stroke="#262626" stroke-width="0.35">0</text><text x="66.6" y="729.67" text-anchor="end" font-size="9.6" font-weight="normal" fill="#262626" letter-spacing="0.3" stroke="#262626" stroke-width="0.35">20</text><text x="414.9" y="729.67" text-anchor="start" font-size="9.6" font-weight="normal" fill="#262626" letter-spacing="0.3" stroke="#262626" stroke-width="0.35">20</text><text x="66.6" y="710.85" text-anchor="end" font-size="9.6" font-weight="normal" fill="#262626" letter-spacing="0.3" stroke="#262626" stroke-width="0.35">40</text><text x="414.9" y="710.85" text-anchor="start" font-size="9.6" font-weight="normal" fill="#262626" letter-spacing="0.3" stroke="#262626" stroke-width="0.35">40</text><text x="66.6" y="692.03" text-anchor="end" font-size="9.6" font-weight="normal" fill="#262626" letter-spacing="0.3" stroke="#262626" stroke-width="0.35">60</text><text x="414.9" y="692.03" text-anchor="start" font-size="9.6" font-weight="normal" fill="#262626" letter-spacing="0.3" stroke="#262626" stroke-width="0.35">60</text><text x="66.6" y="672" text-anchor="end" font-size="9.6" font-weight="normal" fill="#262626" letter-spacing="0.3" stroke="#262626" stroke-width="0.35">80</text><text x="414.9" y="672" text-anchor="start" font-size="9.6" font-weight="normal" fill="#262626" letter-spacing="0.3" stroke="#262626" stroke-width="0.35">80</text><text x="27" y="673" text-anchor="start" font-size="11" font-weight="bold" fill="#222" textLength="24.4" lengthAdjust="spacingAndGlyphs">&#951; (%)</text><text x="430.4" y="673" text-anchor="start" font-size="11" font-weight="bold" fill="#222" textLength="22.5" lengthAdjust="spacingAndGlyphs">&#951; (%)</text><text x="262" y="690.7" text-anchor="start" font-size="11" font-weight="bold" fill="#222" textLength="24.4" lengthAdjust="spacingAndGlyphs">&#951; (%)</text><text x="74.6" y="760" text-anchor="middle" font-size="9.6" font-weight="normal" fill="#262626" letter-spacing="0.3" stroke="#262626" stroke-width="0.35">0</text><text x="116.14" y="760" text-anchor="middle" font-size="9.6" font-weight="normal" fill="#262626" letter-spacing="0.3" stroke="#262626" stroke-width="0.35">10</text><text x="157.67" y="760" text-anchor="middle" font-size="9.6" font-weight="normal" fill="#262626" letter-spacing="0.3" stroke="#262626" stroke-width="0.35">20</text><text x="199.21" y="760" text-anchor="middle" font-size="9.6" font-weight="normal" fill="#262626" letter-spacing="0.3" stroke="#262626" stroke-width="0.35">30</text><text x="240.75" y="760" text-anchor="middle" font-size="9.6" font-weight="normal" fill="#262626" letter-spacing="0.3" stroke="#262626" stroke-width="0.35">40</text><text x="282.29" y="760" text-anchor="middle" font-size="9.6" font-weight="normal" fill="#262626" letter-spacing="0.3" stroke="#262626" stroke-width="0.35">50</text><text x="323.82" y="760" text-anchor="middle" font-size="9.6" font-weight="normal" fill="#262626" letter-spacing="0.3" stroke="#262626" stroke-width="0.35">60</text><text x="365.36" y="760" text-anchor="middle" font-size="9.6" font-weight="normal" fill="#262626" letter-spacing="0.3" stroke="#262626" stroke-width="0.35">70</text><text x="406.9" y="760" text-anchor="middle" font-size="9.6" font-weight="normal" fill="#262626" letter-spacing="0.3" stroke="#262626" stroke-width="0.35">80</text><text x="420.2" y="760" text-anchor="start" font-size="11" font-weight="bold" fill="#222" textLength="42.7" lengthAdjust="spacingAndGlyphs">Q(m&#179;/h)</text></g><path d="M74.6 744.5 L78.75 741.99 L82.91 739.52 L87.06 737.1 L91.21 734.72 L95.37 732.4 L99.52 730.12 L103.68 727.89 L107.83 725.71 L111.98 723.58 L116.14 721.49 L120.29 719.46 L124.44 717.47 L128.6 715.52 L132.75 713.63 L136.91 711.78 L141.06 709.98 L145.21 708.23 L149.37 706.52 L153.52 704.86 L157.67 703.25 L161.83 701.68 L165.98 700.16 L170.14 698.69 L174.29 697.26 L178.44 695.88 L182.6 694.54 L186.75 693.25 L190.9 692.01 L195.06 690.81 L199.21 689.65 L203.37 688.54 L207.52 687.48 L211.67 686.46 L215.83 685.49 L219.98 684.56 L224.13 683.68 L228.29 682.84 L232.44 682.05 L236.6 681.3 L240.75 680.59 L244.9 679.93 L249.06 679.31 L253.21 678.74 L257.37 678.21 L261.52 677.72 L265.67 677.28 L269.83 676.88 L273.98 676.52 L278.13 676.21 L282.29 675.94 L286.44 675.72 L290.59 675.53 L294.75 675.39 L298.9 675.29 L303.06 675.24 L307.21 675.22 L311.36 675.25 L315.52 675.32 L319.67 675.44 L323.82 675.59 L327.98 675.79 L332.13 676.02 L336.29 676.3 L340.44 676.62 L344.59 676.99 L348.75 677.39 L352.9 677.84 L357.05 678.32 L361.21 678.85 L365.36 679.41 L369.52 680.02 L373.67 680.67" stroke="#222" stroke-width="1.3" fill="none"/>
<text x="0" y="0" transform="matrix(0.93 0 0 1 533.56 502.56)" font-family="Liberation Sans" font-weight="bold" font-size="177.96" fill="#e2e2e2" stroke="#e2e2e2" stroke-width="5" stroke-linejoin="round">6</text><text x="0" y="0" transform="matrix(0.94 0 0 1 635.27 502.56)" font-family="Liberation Sans" font-weight="bold" font-size="177.96" fill="#e2e2e2" stroke="#e2e2e2" stroke-width="5" stroke-linejoin="round">0</text><polygon points="749.3,377 775.2,377 775.2,427 825.2,427 825.2,377 851.1,377 851.1,505.1 825.2,505.1 825.2,448.8 775.2,448.8 775.2,505.1 749.3,505.1" fill="#e2e2e2"/><polygon points="875.3,412.7 951.6,412.7 951.6,430.4 905.2,483.3 954.6,483.3 954.6,505.1 872.5,505.1 872.5,485.6 919,432.7 875.3,432.7" fill="#e2e2e2"/><path d="M589.86 177.4V589.5M598.23 177.4V589.5M606.59 177.4V589.5M614.95 177.4V589.5M631.67 177.4V589.5M640.04 177.4V589.5M648.4 177.4V589.5M656.76 177.4V589.5M673.49 177.4V589.5M681.85 177.4V589.5M690.21 177.4V589.5M698.58 177.4V589.5M715.3 177.4V589.5M723.66 177.4V589.5M732.02 177.4V589.5M740.39 177.4V589.5M757.11 177.4V589.5M765.48 177.4V589.5M773.84 177.4V589.5M782.2 177.4V589.5M798.92 177.4V589.5M807.29 177.4V589.5M815.65 177.4V589.5M824.01 177.4V589.5M840.74 177.4V589.5M849.1 177.4V589.5M857.46 177.4V589.5M865.83 177.4V589.5M882.55 177.4V589.5M890.91 177.4V589.5M899.28 177.4V589.5M907.64 177.4V589.5M581.5 577.73H916M581.5 565.95H916M581.5 554.18H916M581.5 542.4H916M581.5 518.85H916M581.5 507.08H916M581.5 495.31H916M581.5 483.53H916M581.5 459.98H916M581.5 448.21H916M581.5 436.43H916M581.5 424.66H916M581.5 401.11H916M581.5 389.34H916M581.5 377.56H916M581.5 365.79H916M581.5 342.24H916M581.5 330.47H916M581.5 318.69H916M581.5 306.92H916M581.5 283.37H916M581.5 271.59H916M581.5 259.82H916M581.5 248.05H916M581.5 224.5H916M581.5 212.72H916M581.5 200.95H916M581.5 189.17H916" stroke="#000" stroke-opacity="0.04" stroke-width="0.8" fill="none"/><path d="M623.31 177.4V589.5M665.12 177.4V589.5M706.94 177.4V589.5M748.75 177.4V589.5M790.56 177.4V589.5M832.38 177.4V589.5M874.19 177.4V589.5M581.5 530.63H916M581.5 471.76H916M581.5 412.89H916M581.5 354.01H916M581.5 295.14H916M581.5 236.27H916" stroke="#000" stroke-opacity="0.08" stroke-width="0.8" fill="none"/><path d="M577.5 177.4H920M577.5 589.5H916M581.5 177.4V593.5M916 177.4V593.5M577.5 589.5H581.5M577.5 577.73H581.5M577.5 565.95H581.5M577.5 554.18H581.5M577.5 542.4H581.5M577.5 530.63H581.5M577.5 518.85H581.5M577.5 507.08H581.5M577.5 495.31H581.5M577.5 483.53H581.5M577.5 471.76H581.5M577.5 459.98H581.5M577.5 448.21H581.5M577.5 436.43H581.5M577.5 424.66H581.5M577.5 412.89H581.5M577.5 401.11H581.5M577.5 389.34H581.5M577.5 377.56H581.5M577.5 365.79H581.5M577.5 354.01H581.5M577.5 342.24H581.5M577.5 330.47H581.5M577.5 318.69H581.5M577.5 306.92H581.5M577.5 295.14H581.5M577.5 283.37H581.5M577.5 271.59H581.5M577.5 259.82H581.5M577.5 248.05H581.5M577.5 236.27H581.5M577.5 224.5H581.5M577.5 212.72H581.5M577.5 200.95H581.5M577.5 189.17H581.5M577.5 177.4H581.5M581.5 589.5V593.5M602.41 589.5V592.5M623.31 589.5V593.5M644.22 589.5V592.5M665.12 589.5V593.5M686.03 589.5V592.5M706.94 589.5V593.5M727.84 589.5V592.5M748.75 589.5V593.5M769.66 589.5V592.5M790.56 589.5V593.5M811.47 589.5V592.5M832.38 589.5V593.5M853.28 589.5V592.5M874.19 589.5V593.5M895.09 589.5V592.5M916 589.5V593.5M581.5 173.4V177.4M605.24 173.4V177.4M628.98 173.4V177.4M652.72 173.4V177.4M676.47 173.4V177.4M700.21 173.4V177.4M723.95 173.4V177.4M747.69 173.4V177.4M771.43 173.4V177.4M795.17 173.4V177.4M818.92 173.4V177.4M842.66 173.4V177.4M866.4 173.4V177.4M890.14 173.4V177.4M913.88 173.4V177.4M916 589.5H920M916 582.32H920M916 575.14H920M916 567.97H920M916 560.79H920M916 553.61H920M916 546.43H920M916 539.26H920M916 532.08H920M916 524.9H920M916 517.72H920M916 510.55H920M916 503.37H920M916 496.19H920M916 489.01H920M916 481.84H920M916 474.66H920M916 467.48H920M916 460.3H920M916 453.13H920M916 445.95H920M916 438.77H920M916 431.59H920M916 424.42H920M916 417.24H920M916 410.06H920M916 402.88H920M916 395.7H920M916 388.53H920M916 381.35H920M916 374.17H920M916 366.99H920M916 359.82H920M916 352.64H920M916 345.46H920M916 338.28H920M916 331.11H920M916 323.93H920M916 316.75H920M916 309.57H920M916 302.4H920M916 295.22H920M916 288.04H920M916 280.86H920M916 273.69H920M916 266.51H920M916 259.33H920M916 252.15H920M916 244.97H920M916 237.8H920M916 230.62H920M916 223.44H920M916 216.26H920M916 209.09H920M916 201.91H920M916 194.73H920M916 187.55H920M916 180.38H920" stroke="#5a5a5a" stroke-width="1.1" fill="none"/><g font-family="Liberation Sans"><text x="581.5" y="607" text-anchor="middle" font-size="9.6" font-weight="normal" fill="#262626" letter-spacing="0.3" stroke="#262626" stroke-width="0.35">0</text><text x="623.31" y="607" text-anchor="middle" font-size="9.6" font-weight="normal" fill="#262626" letter-spacing="0.3" stroke="#262626" stroke-width="0.35">10</text><text x="665.12" y="607" text-anchor="middle" font-size="9.6" font-weight="normal" fill="#262626" letter-spacing="0.3" stroke="#262626" stroke-width="0.35">20</text><text x="706.94" y="607" text-anchor="middle" font-size="9.6" font-weight="normal" fill="#262626" letter-spacing="0.3" stroke="#262626" stroke-width="0.35">30</text><text x="748.75" y="607" text-anchor="middle" font-size="9.6" font-weight="normal" fill="#262626" letter-spacing="0.3" stroke="#262626" stroke-width="0.35">40</text><text x="790.56" y="607" text-anchor="middle" font-size="9.6" font-weight="normal" fill="#262626" letter-spacing="0.3" stroke="#262626" stroke-width="0.35">50</text><text x="832.38" y="607" text-anchor="middle" font-size="9.6" font-weight="normal" fill="#262626" letter-spacing="0.3" stroke="#262626" stroke-width="0.35">60</text><text x="874.19" y="607" text-anchor="middle" font-size="9.6" font-weight="normal" fill="#262626" letter-spacing="0.3" stroke="#262626" stroke-width="0.35">70</text><text x="916" y="607" text-anchor="middle" font-size="9.6" font-weight="normal" fill="#262626" letter-spacing="0.3" stroke="#262626" stroke-width="0.35">80</text><text x="931.5" y="607.3" text-anchor="start" font-size="11" font-weight="bold" fill="#222" textLength="43.7" lengthAdjust="spacingAndGlyphs">Q(m&#179;/h)</text><text x="571.5" y="594.8" text-anchor="end" font-size="9.6" font-weight="normal" fill="#262626" letter-spacing="0.3" stroke="#262626" stroke-width="0.35">100</text><text x="571.5" y="535.93" text-anchor="end" font-size="9.6" font-weight="normal" fill="#262626" letter-spacing="0.3" stroke="#262626" stroke-width="0.35">150</text><text x="571.5" y="477.06" text-anchor="end" font-size="9.6" font-weight="normal" fill="#262626" letter-spacing="0.3" stroke="#262626" stroke-width="0.35">200</text><text x="571.5" y="418.19" text-anchor="end" font-size="9.6" font-weight="normal" fill="#262626" letter-spacing="0.3" stroke="#262626" stroke-width="0.35">250</text><text x="571.5" y="359.31" text-anchor="end" font-size="9.6" font-weight="normal" fill="#262626" letter-spacing="0.3" stroke="#262626" stroke-width="0.35">300</text><text x="571.5" y="300.44" text-anchor="end" font-size="9.6" font-weight="normal" fill="#262626" letter-spacing="0.3" stroke="#262626" stroke-width="0.35">350</text><text x="571.5" y="241.57" text-anchor="end" font-size="9.6" font-weight="normal" fill="#262626" letter-spacing="0.3" stroke="#262626" stroke-width="0.35">400</text><text x="571.5" y="182.7" text-anchor="end" font-size="9.6" font-weight="normal" fill="#262626" letter-spacing="0.3" stroke="#262626" stroke-width="0.35">450</text><text x="523.5" y="182.7" text-anchor="start" font-size="11" font-weight="bold" fill="#222" textLength="26" lengthAdjust="spacingAndGlyphs">H(m)</text><text x="581.5" y="167.7" text-anchor="middle" font-size="9.6" font-weight="normal" fill="#262626" letter-spacing="0.3" stroke="#262626" stroke-width="0.35">0</text><text x="628.98" y="167.7" text-anchor="middle" font-size="9.6" font-weight="normal" fill="#262626" letter-spacing="0.3" stroke="#262626" stroke-width="0.35">50</text><text x="676.47" y="167.7" text-anchor="middle" font-size="9.6" font-weight="normal" fill="#262626" letter-spacing="0.3" stroke="#262626" stroke-width="0.35">100</text><text x="723.95" y="167.7" text-anchor="middle" font-size="9.6" font-weight="normal" fill="#262626" letter-spacing="0.3" stroke="#262626" stroke-width="0.35">150</text><text x="771.43" y="167.7" text-anchor="middle" font-size="9.6" font-weight="normal" fill="#262626" letter-spacing="0.3" stroke="#262626" stroke-width="0.35">200</text><text x="818.92" y="167.7" text-anchor="middle" font-size="9.6" font-weight="normal" fill="#262626" letter-spacing="0.3" stroke="#262626" stroke-width="0.35">250</text><text x="866.4" y="167.7" text-anchor="middle" font-size="9.6" font-weight="normal" fill="#262626" letter-spacing="0.3" stroke="#262626" stroke-width="0.35">300</text><text x="913.88" y="167.7" text-anchor="middle" font-size="9.6" font-weight="normal" fill="#262626" letter-spacing="0.3" stroke="#262626" stroke-width="0.35">350</text><text x="929.5" y="167.9" text-anchor="start" font-size="10.5" font-weight="bold" fill="#222" textLength="44.6" lengthAdjust="spacingAndGlyphs">US.GPM</text><text x="926" y="595" text-anchor="start" font-size="9.6" font-weight="normal" fill="#262626" letter-spacing="0.3" stroke="#262626" stroke-width="0.35">328</text><text x="926" y="559.11" text-anchor="start" font-size="9.6" font-weight="normal" fill="#262626" letter-spacing="0.3" stroke="#262626" stroke-width="0.35">428</text><text x="926" y="523.22" text-anchor="start" font-size="9.6" font-weight="normal" fill="#262626" letter-spacing="0.3" stroke="#262626" stroke-width="0.35">528</text><text x="926" y="487.34" text-anchor="start" font-size="9.6" font-weight="normal" fill="#262626" letter-spacing="0.3" stroke="#262626" stroke-width="0.35">628</text><text x="926" y="451.45" text-anchor="start" font-size="9.6" font-weight="normal" fill="#262626" letter-spacing="0.3" stroke="#262626" stroke-width="0.35">728</text><text x="926" y="415.56" text-anchor="start" font-size="9.6" font-weight="normal" fill="#262626" letter-spacing="0.3" stroke="#262626" stroke-width="0.35">828</text><text x="926" y="379.67" text-anchor="start" font-size="9.6" font-weight="normal" fill="#262626" letter-spacing="0.3" stroke="#262626" stroke-width="0.35">928</text><text x="926" y="343.78" text-anchor="start" font-size="9.6" font-weight="normal" fill="#262626" letter-spacing="0.3" stroke="#262626" stroke-width="0.35">1028</text><text x="926" y="307.9" text-anchor="start" font-size="9.6" font-weight="normal" fill="#262626" letter-spacing="0.3" stroke="#262626" stroke-width="0.35">1128</text><text x="926" y="272.01" text-anchor="start" font-size="9.6" font-weight="normal" fill="#262626" letter-spacing="0.3" stroke="#262626" stroke-width="0.35">1228</text><text x="926" y="236.12" text-anchor="start" font-size="9.6" font-weight="normal" fill="#262626" letter-spacing="0.3" stroke="#262626" stroke-width="0.35">1328</text><text x="926" y="200.23" text-anchor="start" font-size="9.6" font-weight="normal" fill="#262626" letter-spacing="0.3" stroke="#262626" stroke-width="0.35">1428</text><text x="956" y="200.23" text-anchor="start" font-size="11" font-weight="bold" fill="#222" textLength="24" lengthAdjust="spacingAndGlyphs">H(ft)</text></g><path d="M581.5 457.63 L583.59 457.44 L585.68 457.27 L587.77 457.12 L589.86 456.99 L591.95 456.87 L594.04 456.77 L596.13 456.69 L598.23 456.62 L600.32 456.57 L602.41 456.54 L604.5 456.52 L606.59 456.52 L608.68 456.53 L610.77 456.56 L612.86 456.61 L613.5 456.63M628.5 457.42 L629.58 457.51 L631.67 457.68 L633.77 457.87 L635.86 458.08 L637.95 458.3 L640.04 458.53 L642.13 458.77 L644.22 459.03 L646.31 459.3 L648.4 459.59 L650.49 459.89 L652.58 460.2 L654.67 460.52 L656.76 460.85 L658.85 461.2 L660.94 461.56 L663.03 461.93 L665.12 462.31 L667.22 462.71 L669.31 463.11 L671.4 463.53 L673.49 463.96 L675.58 464.4 L677.67 464.85 L679.76 465.31 L681.85 465.78 L683.94 466.27 L686.03 466.76 L688.12 467.27 L690.21 467.78 L692.3 468.31 L694.39 468.84 L696.48 469.39 L698.58 469.94 L700.67 470.51 L702.76 471.09 L704.85 471.67 L706.94 472.27 L709.03 472.87 L711.12 473.48 L713.21 474.11 L715.3 474.74 L717.39 475.38 L719.48 476.03 L721.57 476.69 L723.66 477.36 L725.75 478.03 L727.84 478.72 L729.93 479.41 L732.02 480.12 L734.12 480.83 L736.21 481.55 L738.3 482.28 L740.39 483.01 L742.48 483.76 L744.57 484.51 L746.66 485.27 L748.75 486.04 L750.84 486.81 L752.93 487.6 L755.02 488.39 L757.11 489.19 L759.2 489.99 L761.29 490.81 L763.38 491.63 L765.48 492.46 L767.57 493.29 L769.66 494.14 L771.75 494.99 L773.84 495.85 L775.93 496.71 L778.02 497.58 L780.11 498.46 L782.2 499.35 L784.29 500.24 L786.38 501.14 L788.47 502.05 L790.56 502.96 L792.65 503.88 L794.74 504.81 L796.83 505.74 L798.92 506.68 L801.02 507.63 L803.11 508.58 L805.2 509.54 L807.29 510.51 L809.38 511.48 L811.47 512.46 L813.56 513.44 L815.65 514.44 L817.74 515.43 L819.83 516.44 L821.92 517.45 L824.01 518.47 L826.1 519.49 L828.19 520.52 L830.28 521.56 L832.38 522.6 L834.47 523.65 L836.56 524.7 L838.65 525.76 L840.74 526.83 L842.83 527.9 L844.92 528.98 L847.01 530.07 L849.1 531.16 L851.19 532.26 L853.28 533.36 L855.37 534.47 L857.46 535.59 L859.55 536.71 L861.64 537.84 L863.73 538.97 L865.83 540.12 L867.92 541.26 L870.01 542.42 L872.1 543.58 L874.19 544.74 L876.28 545.91 L878.37 547.09 L880.46 548.28 L882.55 549.47M581.5 434.08 L583.59 433.87 L585.68 433.69 L587.77 433.52 L589.86 433.37 L591.95 433.25 L594.04 433.14 L596.13 433.04 L598.23 432.97 L600.32 432.92 L602.41 432.88 L604.5 432.86 L606.59 432.86 L608.68 432.87 L610.77 432.91 L612.86 432.96 L613.5 432.97M628.5 433.85 L629.58 433.95 L631.67 434.14 L633.77 434.35 L635.86 434.58 L637.95 434.82 L640.04 435.07 L642.13 435.34 L644.22 435.63 L646.31 435.93 L648.4 436.24 L650.49 436.57 L652.58 436.91 L654.67 437.27 L656.76 437.63 L658.85 438.02 L660.94 438.41 L663.03 438.82 L665.12 439.24 L667.22 439.68 L669.31 440.12 L671.4 440.58 L673.49 441.06 L675.58 441.54 L677.67 442.04 L679.76 442.55 L681.85 443.07 L683.94 443.6 L686.03 444.15 L688.12 444.71 L690.21 445.27 L692.3 445.85 L694.39 446.44 L696.48 447.05 L698.58 447.66 L700.67 448.28 L702.76 448.92 L704.85 449.56 L706.94 450.22 L709.03 450.88 L711.12 451.56 L713.21 452.25 L715.3 452.95 L717.39 453.65 L719.48 454.37 L721.57 455.1 L723.66 455.83 L725.75 456.58 L727.84 457.34 L729.93 458.1 L732.02 458.88 L734.12 459.66 L736.21 460.45 L738.3 461.26 L740.39 462.07 L742.48 462.89 L744.57 463.72 L746.66 464.55 L748.75 465.4 L750.84 466.26 L752.93 467.12 L755.02 467.99 L757.11 468.87 L759.2 469.76 L761.29 470.66 L763.38 471.57 L765.48 472.48 L767.57 473.4 L769.66 474.33 L771.75 475.27 L773.84 476.22 L775.93 477.17 L778.02 478.13 L780.11 479.1 L782.2 480.08 L784.29 481.06 L786.38 482.05 L788.47 483.05 L790.56 484.06 L792.65 485.08 L794.74 486.1 L796.83 487.13 L798.92 488.16 L801.02 489.21 L803.11 490.26 L805.2 491.32 L807.29 492.38 L809.38 493.45 L811.47 494.53 L813.56 495.62 L815.65 496.71 L817.74 497.81 L819.83 498.92 L821.92 500.04 L824.01 501.16 L826.1 502.29 L828.19 503.42 L830.28 504.56 L832.38 505.71 L834.47 506.87 L836.56 508.03 L838.65 509.2 L840.74 510.38 L842.83 511.56 L844.92 512.75 L847.01 513.95 L849.1 515.15 L851.19 516.36 L853.28 517.58 L855.37 518.8 L857.46 520.04 L859.55 521.27 L861.64 522.52 L863.73 523.77 L865.83 525.03 L867.92 526.29 L870.01 527.56 L872.1 528.84 L874.19 530.13 L876.28 531.42 L878.37 532.72 L880.46 534.03 L882.55 535.34M581.5 411.71 L583.59 411.49 L585.68 411.29 L587.77 411.11 L589.86 410.95 L591.95 410.82 L594.04 410.7 L596.13 410.6 L598.23 410.52 L600.32 410.46 L602.41 410.42 L604.5 410.4 L606.59 410.4 L608.68 410.42 L610.77 410.45 L612.86 410.51 L613.5 410.53M628.5 411.46 L629.58 411.57 L631.67 411.77 L633.77 412 L635.86 412.24 L637.95 412.5 L640.04 412.77 L642.13 413.06 L644.22 413.37 L646.31 413.69 L648.4 414.02 L650.49 414.37 L652.58 414.74 L654.67 415.12 L656.76 415.51 L658.85 415.92 L660.94 416.34 L663.03 416.78 L665.12 417.23 L667.22 417.7 L669.31 418.18 L671.4 418.67 L673.49 419.17 L675.58 419.69 L677.67 420.22 L679.76 420.77 L681.85 421.33 L683.94 421.9 L686.03 422.48 L688.12 423.08 L690.21 423.68 L692.3 424.3 L694.39 424.94 L696.48 425.58 L698.58 426.23 L700.67 426.9 L702.76 427.58 L704.85 428.27 L706.94 428.97 L709.03 429.69 L711.12 430.41 L713.21 431.14 L715.3 431.89 L717.39 432.65 L719.48 433.41 L721.57 434.19 L723.66 434.98 L725.75 435.78 L727.84 436.59 L729.93 437.41 L732.02 438.23 L734.12 439.07 L736.21 439.92 L738.3 440.78 L740.39 441.65 L742.48 442.53 L744.57 443.41 L746.66 444.31 L748.75 445.22 L750.84 446.13 L752.93 447.05 L755.02 447.99 L757.11 448.93 L759.2 449.88 L761.29 450.84 L763.38 451.81 L765.48 452.79 L767.57 453.77 L769.66 454.77 L771.75 455.77 L773.84 456.78 L775.93 457.81 L778.02 458.83 L780.11 459.87 L782.2 460.92 L784.29 461.97 L786.38 463.03 L788.47 464.1 L790.56 465.18 L792.65 466.26 L794.74 467.36 L796.83 468.46 L798.92 469.57 L801.02 470.68 L803.11 471.81 L805.2 472.94 L807.29 474.08 L809.38 475.23 L811.47 476.38 L813.56 477.54 L815.65 478.71 L817.74 479.89 L819.83 481.08 L821.92 482.27 L824.01 483.47 L826.1 484.67 L828.19 485.89 L830.28 487.11 L832.38 488.34 L834.47 489.58 L836.56 490.82 L838.65 492.07 L840.74 493.33 L842.83 494.6 L844.92 495.87 L847.01 497.15 L849.1 498.44 L851.19 499.73 L853.28 501.04 L855.37 502.34 L857.46 503.66 L859.55 504.99 L861.64 506.32 L863.73 507.66 L865.83 509 L867.92 510.35 L870.01 511.71 L872.1 513.08 L874.19 514.46 L876.28 515.84 L878.37 517.23 L880.46 518.63 L882.55 520.03M581.5 389.34 L583.59 389.1 L585.68 388.89 L587.77 388.69 L589.86 388.52 L591.95 388.38 L594.04 388.25 L596.13 388.14 L598.23 388.06 L600.32 388 L602.41 387.95 L604.5 387.93 L606.59 387.93 L608.68 387.95 L610.77 387.99 L612.86 388.04 L613.5 388.06M628.5 389.07 L629.58 389.18 L631.67 389.41 L633.77 389.65 L635.86 389.91 L637.95 390.19 L640.04 390.48 L642.13 390.79 L644.22 391.12 L646.31 391.46 L648.4 391.83 L650.49 392.2 L652.58 392.6 L654.67 393 L656.76 393.43 L658.85 393.87 L660.94 394.32 L663.03 394.79 L665.12 395.28 L667.22 395.78 L669.31 396.3 L671.4 396.83 L673.49 397.37 L675.58 397.93 L677.67 398.5 L679.76 399.09 L681.85 399.69 L683.94 400.3 L686.03 400.93 L688.12 401.57 L690.21 402.22 L692.3 402.89 L694.39 403.57 L696.48 404.26 L698.58 404.97 L700.67 405.69 L702.76 406.42 L704.85 407.16 L706.94 407.92 L709.03 408.68 L711.12 409.46 L713.21 410.25 L715.3 411.05 L717.39 411.87 L719.48 412.69 L721.57 413.53 L723.66 414.38 L725.75 415.24 L727.84 416.11 L729.93 416.99 L732.02 417.88 L734.12 418.78 L736.21 419.7 L738.3 420.62 L740.39 421.56 L742.48 422.5 L744.57 423.45 L746.66 424.42 L748.75 425.39 L750.84 426.38 L752.93 427.37 L755.02 428.38 L757.11 429.39 L759.2 430.42 L761.29 431.45 L763.38 432.49 L765.48 433.54 L767.57 434.6 L769.66 435.67 L771.75 436.75 L773.84 437.84 L775.93 438.94 L778.02 440.05 L780.11 441.16 L782.2 442.29 L784.29 443.42 L786.38 444.56 L788.47 445.71 L790.56 446.87 L792.65 448.04 L794.74 449.22 L796.83 450.4 L798.92 451.6 L801.02 452.8 L803.11 454.01 L805.2 455.23 L807.29 456.45 L809.38 457.69 L811.47 458.93 L813.56 460.18 L815.65 461.44 L817.74 462.71 L819.83 463.98 L821.92 465.27 L824.01 466.56 L826.1 467.86 L828.19 469.16 L830.28 470.48 L832.38 471.8 L834.47 473.13 L836.56 474.47 L838.65 475.82 L840.74 477.17 L842.83 478.53 L844.92 479.9 L847.01 481.28 L849.1 482.67 L851.19 484.06 L853.28 485.46 L855.37 486.87 L857.46 488.29 L859.55 489.71 L861.64 491.14 L863.73 492.58 L865.83 494.03 L867.92 495.49 L870.01 496.95 L872.1 498.42 L874.19 499.9 L876.28 501.39 L878.37 502.89 L880.46 504.39 L882.55 505.9M581.5 365.79 L583.59 365.53 L585.68 365.3 L587.77 365.09 L589.86 364.91 L591.95 364.75 L594.04 364.61 L596.13 364.5 L598.23 364.41 L600.32 364.34 L602.41 364.29 L604.5 364.27 L606.59 364.27 L608.68 364.29 L610.77 364.33 L612.86 364.39 L613.5 364.41M628.5 365.5 L629.58 365.62 L631.67 365.87 L633.77 366.13 L635.86 366.41 L637.95 366.71 L640.04 367.03 L642.13 367.36 L644.22 367.72 L646.31 368.09 L648.4 368.48 L650.49 368.89 L652.58 369.31 L654.67 369.75 L656.76 370.21 L658.85 370.69 L660.94 371.18 L663.03 371.69 L665.12 372.21 L667.22 372.75 L669.31 373.31 L671.4 373.88 L673.49 374.47 L675.58 375.07 L677.67 375.69 L679.76 376.33 L681.85 376.98 L683.94 377.64 L686.03 378.32 L688.12 379.01 L690.21 379.72 L692.3 380.44 L694.39 381.17 L696.48 381.92 L698.58 382.68 L700.67 383.46 L702.76 384.25 L704.85 385.05 L706.94 385.87 L709.03 386.7 L711.12 387.54 L713.21 388.39 L715.3 389.26 L717.39 390.14 L719.48 391.03 L721.57 391.94 L723.66 392.85 L725.75 393.78 L727.84 394.72 L729.93 395.68 L732.02 396.64 L734.12 397.62 L736.21 398.6 L738.3 399.6 L740.39 400.61 L742.48 401.63 L744.57 402.66 L746.66 403.71 L748.75 404.76 L750.84 405.82 L752.93 406.9 L755.02 407.98 L757.11 409.08 L759.2 410.19 L761.29 411.3 L763.38 412.43 L765.48 413.57 L767.57 414.71 L769.66 415.87 L771.75 417.04 L773.84 418.21 L775.93 419.4 L778.02 420.6 L780.11 421.8 L782.2 423.02 L784.29 424.24 L786.38 425.48 L788.47 426.72 L790.56 427.97 L792.65 429.24 L794.74 430.51 L796.83 431.79 L798.92 433.08 L801.02 434.38 L803.11 435.68 L805.2 437 L807.29 438.33 L809.38 439.66 L811.47 441 L813.56 442.36 L815.65 443.72 L817.74 445.09 L819.83 446.47 L821.92 447.85 L824.01 449.25 L826.1 450.65 L828.19 452.06 L830.28 453.49 L832.38 454.92 L834.47 456.35 L836.56 457.8 L838.65 459.26 L840.74 460.72 L842.83 462.19 L844.92 463.67 L847.01 465.16 L849.1 466.66 L851.19 468.17 L853.28 469.68 L855.37 471.2 L857.46 472.73 L859.55 474.27 L861.64 475.82 L863.73 477.38 L865.83 478.94 L867.92 480.52 L870.01 482.1 L872.1 483.69 L874.19 485.29 L876.28 486.9 L878.37 488.51 L880.46 490.14 L882.55 491.77M581.5 343.42 L583.59 343.15 L585.68 342.9 L587.77 342.68 L589.86 342.48 L591.95 342.31 L594.04 342.17 L596.13 342.04 L598.23 341.95 L600.32 341.87 L602.41 341.83 L604.5 341.8 L606.59 341.8 L608.68 341.82 L610.77 341.86 L612.86 341.93 L613.5 341.95M628.5 343.11 L629.58 343.24 L631.67 343.5 L633.77 343.78 L635.86 344.08 L637.95 344.4 L640.04 344.74 L642.13 345.09 L644.22 345.47 L646.31 345.87 L648.4 346.28 L650.49 346.72 L652.58 347.17 L654.67 347.64 L656.76 348.13 L658.85 348.64 L660.94 349.16 L663.03 349.7 L665.12 350.26 L667.22 350.84 L669.31 351.43 L671.4 352.04 L673.49 352.67 L675.58 353.31 L677.67 353.97 L679.76 354.64 L681.85 355.34 L683.94 356.04 L686.03 356.77 L688.12 357.5 L690.21 358.26 L692.3 359.02 L694.39 359.81 L696.48 360.61 L698.58 361.42 L700.67 362.24 L702.76 363.09 L704.85 363.94 L706.94 364.81 L709.03 365.69 L711.12 366.59 L713.21 367.5 L715.3 368.43 L717.39 369.36 L719.48 370.31 L721.57 371.28 L723.66 372.25 L725.75 373.24 L727.84 374.24 L729.93 375.26 L732.02 376.29 L734.12 377.33 L736.21 378.38 L738.3 379.44 L740.39 380.52 L742.48 381.6 L744.57 382.7 L746.66 383.81 L748.75 384.94 L750.84 386.07 L752.93 387.22 L755.02 388.37 L757.11 389.54 L759.2 390.72 L761.29 391.91 L763.38 393.11 L765.48 394.32 L767.57 395.54 L769.66 396.78 L771.75 398.02 L773.84 399.27 L775.93 400.54 L778.02 401.81 L780.11 403.1 L782.2 404.39 L784.29 405.7 L786.38 407.01 L788.47 408.34 L790.56 409.67 L792.65 411.02 L794.74 412.37 L796.83 413.74 L798.92 415.11 L801.02 416.49 L803.11 417.89 L805.2 419.29 L807.29 420.7 L809.38 422.12 L811.47 423.55 L813.56 424.99 L815.65 426.44 L817.74 427.9 L819.83 429.37 L821.92 430.85 L824.01 432.34 L826.1 433.83 L828.19 435.34 L830.28 436.85 L832.38 438.37 L834.47 439.91 L836.56 441.45 L838.65 443 L840.74 444.56 L842.83 446.13 L844.92 447.7 L847.01 449.29 L849.1 450.89 L851.19 452.49 L853.28 454.11 L855.37 455.73 L857.46 457.36 L859.55 459 L861.64 460.65 L863.73 462.31 L865.83 463.98 L867.92 465.65 L870.01 467.34 L872.1 469.03 L874.19 470.74 L876.28 472.45 L878.37 474.17 L880.46 475.9 L882.55 477.64M581.5 321.05 L583.59 320.76 L585.68 320.5 L587.77 320.26 L589.86 320.05 L591.95 319.87 L594.04 319.72 L596.13 319.59 L598.23 319.49 L600.32 319.41 L602.41 319.36 L604.5 319.33 L606.59 319.33 L608.68 319.35 L610.77 319.39 L612.86 319.46 L613.5 319.49M628.5 320.72 L629.58 320.86 L631.67 321.13 L633.77 321.43 L635.86 321.75 L637.95 322.09 L640.04 322.45 L642.13 322.83 L644.22 323.23 L646.31 323.65 L648.4 324.09 L650.49 324.55 L652.58 325.03 L654.67 325.53 L656.76 326.05 L658.85 326.59 L660.94 327.14 L663.03 327.72 L665.12 328.31 L667.22 328.92 L669.31 329.55 L671.4 330.2 L673.49 330.86 L675.58 331.55 L677.67 332.25 L679.76 332.96 L681.85 333.7 L683.94 334.45 L686.03 335.21 L688.12 336 L690.21 336.8 L692.3 337.61 L694.39 338.44 L696.48 339.29 L698.58 340.15 L700.67 341.03 L702.76 341.92 L704.85 342.83 L706.94 343.75 L709.03 344.69 L711.12 345.64 L713.21 346.61 L715.3 347.59 L717.39 348.58 L719.48 349.59 L721.57 350.62 L723.66 351.65 L725.75 352.7 L727.84 353.77 L729.93 354.84 L732.02 355.93 L734.12 357.04 L736.21 358.15 L738.3 359.28 L740.39 360.42 L742.48 361.58 L744.57 362.74 L746.66 363.92 L748.75 365.12 L750.84 366.32 L752.93 367.53 L755.02 368.76 L757.11 370 L759.2 371.25 L761.29 372.52 L763.38 373.79 L765.48 375.08 L767.57 376.37 L769.66 377.68 L771.75 379 L773.84 380.33 L775.93 381.67 L778.02 383.03 L780.11 384.39 L782.2 385.76 L784.29 387.15 L786.38 388.55 L788.47 389.95 L790.56 391.37 L792.65 392.8 L794.74 394.23 L796.83 395.68 L798.92 397.14 L801.02 398.61 L803.11 400.09 L805.2 401.58 L807.29 403.08 L809.38 404.58 L811.47 406.1 L813.56 407.63 L815.65 409.17 L817.74 410.72 L819.83 412.28 L821.92 413.85 L824.01 415.43 L826.1 417.01 L828.19 418.61 L830.28 420.22 L832.38 421.83 L834.47 423.46 L836.56 425.1 L838.65 426.74 L840.74 428.4 L842.83 430.06 L844.92 431.74 L847.01 433.42 L849.1 435.11 L851.19 436.82 L853.28 438.53 L855.37 440.25 L857.46 441.98 L859.55 443.73 L861.64 445.48 L863.73 447.24 L865.83 449.01 L867.92 450.79 L870.01 452.58 L872.1 454.38 L874.19 456.18 L876.28 458 L878.37 459.83 L880.46 461.67 L882.55 463.52M581.5 298.68 L583.59 298.37 L585.68 298.1 L587.77 297.85 L589.86 297.63 L591.95 297.44 L594.04 297.28 L596.13 297.15 L598.23 297.04 L600.32 296.96 L602.41 296.9 L604.5 296.87 L606.59 296.87 L608.68 296.89 L610.77 296.94 L612.86 297.01 L613.5 297.04M628.5 298.34 L629.58 298.48 L631.67 298.77 L633.77 299.08 L635.86 299.41 L637.95 299.77 L640.04 300.14 L642.13 300.54 L644.22 300.96 L646.31 301.4 L648.4 301.87 L650.49 302.35 L652.58 302.86 L654.67 303.38 L656.76 303.92 L658.85 304.49 L660.94 305.07 L663.03 305.68 L665.12 306.3 L667.22 306.94 L669.31 307.6 L671.4 308.28 L673.49 308.98 L675.58 309.7 L677.67 310.43 L679.76 311.18 L681.85 311.95 L683.94 312.74 L686.03 313.55 L688.12 314.37 L690.21 315.21 L692.3 316.06 L694.39 316.93 L696.48 317.82 L698.58 318.73 L700.67 319.65 L702.76 320.59 L704.85 321.54 L706.94 322.51 L709.03 323.49 L711.12 324.49 L713.21 325.51 L715.3 326.54 L717.39 327.58 L719.48 328.64 L721.57 329.71 L723.66 330.8 L725.75 331.9 L727.84 333.02 L729.93 334.15 L732.02 335.29 L734.12 336.45 L736.21 337.62 L738.3 338.81 L740.39 340.01 L742.48 341.22 L744.57 342.44 L746.66 343.68 L748.75 344.93 L750.84 346.19 L752.93 347.47 L755.02 348.76 L757.11 350.06 L759.2 351.37 L761.29 352.7 L763.38 354.03 L765.48 355.38 L767.57 356.75 L769.66 358.12 L771.75 359.5 L773.84 360.9 L775.93 362.31 L778.02 363.73 L780.11 365.16 L782.2 366.6 L784.29 368.06 L786.38 369.52 L788.47 371 L790.56 372.48 L792.65 373.98 L794.74 375.49 L796.83 377.01 L798.92 378.54 L801.02 380.08 L803.11 381.64 L805.2 383.2 L807.29 384.77 L809.38 386.36 L811.47 387.95 L813.56 389.56 L815.65 391.17 L817.74 392.8 L819.83 394.43 L821.92 396.08 L824.01 397.73 L826.1 399.4 L828.19 401.08 L830.28 402.76 L832.38 404.46 L834.47 406.17 L836.56 407.89 L838.65 409.61 L840.74 411.35 L842.83 413.1 L844.92 414.85 L847.01 416.62 L849.1 418.4 L851.19 420.19 L853.28 421.99 L855.37 423.79 L857.46 425.61 L859.55 427.44 L861.64 429.28 L863.73 431.12 L865.83 432.98 L867.92 434.85 L870.01 436.73 L872.1 438.62 L874.19 440.51 L876.28 442.42 L878.37 444.34 L880.46 446.27 L882.55 448.21M581.5 275.13 L583.59 274.8 L585.68 274.51 L587.77 274.25 L589.86 274.02 L591.95 273.82 L594.04 273.64 L596.13 273.5 L598.23 273.39 L600.32 273.3 L602.41 273.24 L604.5 273.21 L606.59 273.21 L608.68 273.23 L610.77 273.28 L612.86 273.36 L613.5 273.39M628.5 274.77 L629.58 274.92 L631.67 275.22 L633.77 275.55 L635.86 275.91 L637.95 276.29 L640.04 276.69 L642.13 277.11 L644.22 277.56 L646.31 278.03 L648.4 278.52 L650.49 279.03 L652.58 279.57 L654.67 280.13 L656.76 280.71 L658.85 281.31 L660.94 281.93 L663.03 282.57 L665.12 283.23 L667.22 283.91 L669.31 284.62 L671.4 285.34 L673.49 286.08 L675.58 286.84 L677.67 287.62 L679.76 288.42 L681.85 289.24 L683.94 290.08 L686.03 290.93 L688.12 291.81 L690.21 292.7 L692.3 293.61 L694.39 294.54 L696.48 295.48 L698.58 296.44 L700.67 297.42 L702.76 298.42 L704.85 299.43 L706.94 300.46 L709.03 301.51 L711.12 302.57 L713.21 303.65 L715.3 304.74 L717.39 305.85 L719.48 306.98 L721.57 308.12 L723.66 309.27 L725.75 310.45 L727.84 311.63 L729.93 312.83 L732.02 314.05 L734.12 315.28 L736.21 316.53 L738.3 317.79 L740.39 319.06 L742.48 320.35 L744.57 321.65 L746.66 322.97 L748.75 324.29 L750.84 325.64 L752.93 326.99 L755.02 328.36 L757.11 329.75 L759.2 331.14 L761.29 332.55 L763.38 333.97 L765.48 335.41 L767.57 336.85 L769.66 338.31 L771.75 339.79 L773.84 341.27 L775.93 342.77 L778.02 344.28 L780.11 345.8 L782.2 347.33 L784.29 348.88 L786.38 350.44 L788.47 352 L790.56 353.59 L792.65 355.18 L794.74 356.78 L796.83 358.4 L798.92 360.03 L801.02 361.66 L803.11 363.31 L805.2 364.97 L807.29 366.65 L809.38 368.33 L811.47 370.03 L813.56 371.73 L815.65 373.45 L817.74 375.18 L819.83 376.91 L821.92 378.66 L824.01 380.43 L826.1 382.2 L828.19 383.98 L830.28 385.77 L832.38 387.58 L834.47 389.39 L836.56 391.22 L838.65 393.05 L840.74 394.9 L842.83 396.76 L844.92 398.62 L847.01 400.5 L849.1 402.39 L851.19 404.29 L853.28 406.2 L855.37 408.13 L857.46 410.06 L859.55 412 L861.64 413.95 L863.73 415.92 L865.83 417.89 L867.92 419.88 L870.01 421.87 L872.1 423.88 L874.19 425.9 L876.28 427.93 L878.37 429.97 L880.46 432.02 L882.55 434.08M581.5 252.76 L583.59 252.42 L585.68 252.11 L587.77 251.83 L589.86 251.59 L591.95 251.38 L594.04 251.2 L596.13 251.04 L598.23 250.92 L600.32 250.83 L602.41 250.77 L604.5 250.74 L606.59 250.74 L608.68 250.76 L610.77 250.82 L612.86 250.9 L613.5 250.93M628.5 252.38 L629.58 252.53 L631.67 252.86 L633.77 253.2 L635.86 253.58 L637.95 253.97 L640.04 254.4 L642.13 254.84 L644.22 255.31 L646.31 255.81 L648.4 256.32 L650.49 256.87 L652.58 257.43 L654.67 258.02 L656.76 258.62 L658.85 259.26 L660.94 259.91 L663.03 260.58 L665.12 261.28 L667.22 262 L669.31 262.74 L671.4 263.5 L673.49 264.28 L675.58 265.08 L677.67 265.9 L679.76 266.74 L681.85 267.6 L683.94 268.48 L686.03 269.38 L688.12 270.3 L690.21 271.24 L692.3 272.2 L694.39 273.17 L696.48 274.16 L698.58 275.18 L700.67 276.21 L702.76 277.25 L704.85 278.32 L706.94 279.4 L709.03 280.5 L711.12 281.62 L713.21 282.75 L715.3 283.91 L717.39 285.07 L719.48 286.26 L721.57 287.46 L723.66 288.67 L725.75 289.91 L727.84 291.15 L729.93 292.42 L732.02 293.7 L734.12 294.99 L736.21 296.3 L738.3 297.63 L740.39 298.97 L742.48 300.32 L744.57 301.69 L746.66 303.07 L748.75 304.47 L750.84 305.89 L752.93 307.31 L755.02 308.75 L757.11 310.21 L759.2 311.68 L761.29 313.16 L763.38 314.65 L765.48 316.16 L767.57 317.68 L769.66 319.22 L771.75 320.77 L773.84 322.33 L775.93 323.9 L778.02 325.49 L780.11 327.09 L782.2 328.71 L784.29 330.33 L786.38 331.97 L788.47 333.62 L790.56 335.28 L792.65 336.96 L794.74 338.65 L796.83 340.34 L798.92 342.06 L801.02 343.78 L803.11 345.51 L805.2 347.26 L807.29 349.02 L809.38 350.79 L811.47 352.58 L813.56 354.37 L815.65 356.18 L817.74 357.99 L819.83 359.82 L821.92 361.66 L824.01 363.51 L826.1 365.38 L828.19 367.25 L830.28 369.14 L832.38 371.04 L834.47 372.94 L836.56 374.86 L838.65 376.8 L840.74 378.74 L842.83 380.69 L844.92 382.66 L847.01 384.63 L849.1 386.62 L851.19 388.62 L853.28 390.63 L855.37 392.65 L857.46 394.68 L859.55 396.73 L861.64 398.78 L863.73 400.85 L865.83 402.92 L867.92 405.01 L870.01 407.11 L872.1 409.22 L874.19 411.35 L876.28 413.48 L878.37 415.63 L880.46 417.78 L882.55 419.95M581.5 230.38 L583.59 230.03 L585.68 229.71 L587.77 229.42 L589.86 229.16 L591.95 228.94 L594.04 228.75 L596.13 228.59 L598.23 228.46 L600.32 228.37 L602.41 228.3 L604.5 228.27 L606.59 228.27 L608.68 228.29 L610.77 228.35 L612.86 228.44 L613.5 228.47M628.5 229.99 L629.58 230.15 L631.67 230.49 L633.77 230.86 L635.86 231.25 L637.95 231.66 L640.04 232.11 L642.13 232.57 L644.22 233.07 L646.31 233.59 L648.4 234.13 L650.49 234.7 L652.58 235.29 L654.67 235.9 L656.76 236.54 L658.85 237.2 L660.94 237.89 L663.03 238.6 L665.12 239.33 L667.22 240.08 L669.31 240.86 L671.4 241.66 L673.49 242.47 L675.58 243.31 L677.67 244.18 L679.76 245.06 L681.85 245.96 L683.94 246.89 L686.03 247.83 L688.12 248.79 L690.21 249.78 L692.3 250.78 L694.39 251.81 L696.48 252.85 L698.58 253.91 L700.67 254.99 L702.76 256.09 L704.85 257.21 L706.94 258.35 L709.03 259.5 L711.12 260.67 L713.21 261.86 L715.3 263.07 L717.39 264.3 L719.48 265.54 L721.57 266.8 L723.66 268.07 L725.75 269.37 L727.84 270.68 L729.93 272 L732.02 273.34 L734.12 274.7 L736.21 276.08 L738.3 277.47 L740.39 278.87 L742.48 280.3 L744.57 281.73 L746.66 283.18 L748.75 284.65 L750.84 286.13 L752.93 287.63 L755.02 289.14 L757.11 290.67 L759.2 292.21 L761.29 293.76 L763.38 295.33 L765.48 296.92 L767.57 298.51 L769.66 300.12 L771.75 301.75 L773.84 303.39 L775.93 305.04 L778.02 306.71 L780.11 308.39 L782.2 310.08 L784.29 311.78 L786.38 313.5 L788.47 315.23 L790.56 316.98 L792.65 318.74 L794.74 320.51 L796.83 322.29 L798.92 324.09 L801.02 325.9 L803.11 327.72 L805.2 329.55 L807.29 331.4 L809.38 333.25 L811.47 335.12 L813.56 337.01 L815.65 338.9 L817.74 340.81 L819.83 342.73 L821.92 344.66 L824.01 346.6 L826.1 348.56 L828.19 350.53 L830.28 352.5 L832.38 354.5 L834.47 356.5 L836.56 358.51 L838.65 360.54 L840.74 362.58 L842.83 364.63 L844.92 366.69 L847.01 368.76 L849.1 370.85 L851.19 372.95 L853.28 375.05 L855.37 377.18 L857.46 379.31 L859.55 381.45 L861.64 383.61 L863.73 385.78 L865.83 387.96 L867.92 390.15 L870.01 392.35 L872.1 394.57 L874.19 396.79 L876.28 399.03 L878.37 401.28 L880.46 403.55 L882.55 405.82" stroke="#262626" stroke-width="1.15" fill="none" stroke-linejoin="round"/><g font-family="Liberation Sans" font-size="10.5" fill="#222"><text x="621" y="460.96" text-anchor="middle">11</text><text x="621" y="437.34" text-anchor="middle">12</text><text x="621" y="414.91" text-anchor="middle">13</text><text x="621" y="392.48" text-anchor="middle">14</text><text x="621" y="368.87" text-anchor="middle">15</text><text x="621" y="346.43" text-anchor="middle">16</text><text x="621" y="324" text-anchor="middle">17</text><text x="621" y="301.58" text-anchor="middle">18</text><text x="621" y="277.96" text-anchor="middle">19</text><text x="621" y="255.53" text-anchor="middle">20</text><text x="621" y="233.1" text-anchor="middle">21</text></g><rect x="821.5" y="177.5" width="93.5" height="58.5" fill="#1f4fa2"/><text x="834.75" y="205.5" font-family="Liberation Sans" font-weight="bold" font-size="20.5" fill="#fff" textLength="66" lengthAdjust="spacingAndGlyphs">6SP60</text><text x="848.75" y="222.5" font-family="Liberation Sans" font-weight="bold" font-size="15" fill="#fff" textLength="39" lengthAdjust="spacingAndGlyphs">60Hz</text><path d="M578 631.5H920M581.5 631.5V635M606.59 631.5V634.5M631.67 631.5V635M656.76 631.5V634.5M681.85 631.5V635M706.94 631.5V634.5M732.02 631.5V635M757.11 631.5V634.5M782.2 631.5V635M807.29 631.5V634.5M832.38 631.5V635M857.46 631.5V634.5M882.55 631.5V635M907.64 631.5V634.5" stroke="#5a5a5a" stroke-width="1.1" fill="none"/><path d="M589.86 668.8V744.5M598.23 668.8V744.5M606.59 668.8V744.5M614.95 668.8V744.5M631.67 668.8V744.5M640.04 668.8V744.5M648.4 668.8V744.5M656.76 668.8V744.5M673.49 668.8V744.5M681.85 668.8V744.5M690.21 668.8V744.5M698.58 668.8V744.5M715.3 668.8V744.5M723.66 668.8V744.5M732.02 668.8V744.5M740.39 668.8V744.5M757.11 668.8V744.5M765.48 668.8V744.5M773.84 668.8V744.5M782.2 668.8V744.5M798.92 668.8V744.5M807.29 668.8V744.5M815.65 668.8V744.5M824.01 668.8V744.5M840.74 668.8V744.5M849.1 668.8V744.5M857.46 668.8V744.5M865.83 668.8V744.5M882.55 668.8V744.5M890.91 668.8V744.5M899.28 668.8V744.5M907.64 668.8V744.5M581.5 740.72H916M581.5 736.93H916M581.5 733.14H916M581.5 729.36H916M581.5 721.79H916M581.5 718H916M581.5 714.22H916M581.5 710.43H916M581.5 702.87H916M581.5 699.08H916M581.5 695.29H916M581.5 691.51H916M581.5 683.94H916M581.5 680.15H916M581.5 676.37H916M581.5 672.58H916" stroke="#000" stroke-opacity="0.04" stroke-width="0.8" fill="none"/><path d="M623.31 668.8V744.5M665.12 668.8V744.5M706.94 668.8V744.5M748.75 668.8V744.5M790.56 668.8V744.5M832.38 668.8V744.5M874.19 668.8V744.5M581.5 725.58H916M581.5 706.65H916M581.5 687.72H916" stroke="#000" stroke-opacity="0.08" stroke-width="0.8" fill="none"/><path d="M577.5 668.8H920M577.5 744.5H920M581.5 668.8V748.5M916 668.8V744.5M577.5 744.5H581.5M916 744.5H920M577.5 740.72H581.5M916 740.72H920M577.5 736.93H581.5M916 736.93H920M577.5 733.14H581.5M916 733.14H920M577.5 729.36H581.5M916 729.36H920M577.5 725.58H581.5M916 725.58H920M577.5 721.79H581.5M916 721.79H920M577.5 718H581.5M916 718H920M577.5 714.22H581.5M916 714.22H920M577.5 710.43H581.5M916 710.43H920M577.5 706.65H581.5M916 706.65H920M577.5 702.87H581.5M916 702.87H920M577.5 699.08H581.5M916 699.08H920M577.5 695.29H581.5M916 695.29H920M577.5 691.51H581.5M916 691.51H920M577.5 687.72H581.5M916 687.72H920M577.5 683.94H581.5M916 683.94H920M577.5 680.15H581.5M916 680.15H920M577.5 676.37H581.5M916 676.37H920M577.5 672.58H581.5M916 672.58H920M577.5 668.8H581.5M916 668.8H920M581.5 744.5V748.5M602.41 744.5V747.5M623.31 744.5V748.5M644.22 744.5V747.5M665.12 744.5V748.5M686.03 744.5V747.5M706.94 744.5V748.5M727.84 744.5V747.5M748.75 744.5V748.5M769.66 744.5V747.5M790.56 744.5V748.5M811.47 744.5V747.5M832.38 744.5V748.5M853.28 744.5V747.5M874.19 744.5V748.5M895.09 744.5V747.5M916 744.5V748.5" stroke="#5a5a5a" stroke-width="1.1" fill="none"/><g font-family="Liberation Sans"><text x="581.5" y="647" text-anchor="middle" font-size="9.6" font-weight="normal" fill="#262626" letter-spacing="0.3" stroke="#262626" stroke-width="0.35">0</text><text x="631.67" y="647" text-anchor="middle" font-size="9.6" font-weight="normal" fill="#262626" letter-spacing="0.3" stroke="#262626" stroke-width="0.35">200</text><text x="681.85" y="647" text-anchor="middle" font-size="9.6" font-weight="normal" fill="#262626" letter-spacing="0.3" stroke="#262626" stroke-width="0.35">400</text><text x="732.02" y="647" text-anchor="middle" font-size="9.6" font-weight="normal" fill="#262626" letter-spacing="0.3" stroke="#262626" stroke-width="0.35">600</text><text x="782.2" y="647" text-anchor="middle" font-size="9.6" font-weight="normal" fill="#262626" letter-spacing="0.3" stroke="#262626" stroke-width="0.35">800</text><text x="832.38" y="647" text-anchor="middle" font-size="9.6" font-weight="normal" fill="#262626" letter-spacing="0.3" stroke="#262626" stroke-width="0.35">1000</text><text x="882.55" y="647" text-anchor="middle" font-size="9.6" font-weight="normal" fill="#262626" letter-spacing="0.3" stroke="#262626" stroke-width="0.35">1200</text><text x="909.6" y="647" text-anchor="start" font-size="11" font-weight="bold" fill="#222" textLength="47.5" lengthAdjust="spacingAndGlyphs">Q(l/min)</text><text x="573.5" y="748.5" text-anchor="end" font-size="9.6" font-weight="normal" fill="#262626" letter-spacing="0.3" stroke="#262626" stroke-width="0.35">0</text><text x="924" y="748.5" text-anchor="start" font-size="9.6" font-weight="normal" fill="#262626" letter-spacing="0.3" stroke="#262626" stroke-width="0.35">0</text><text x="573.5" y="729.58" text-anchor="end" font-size="9.6" font-weight="normal" fill="#262626" letter-spacing="0.3" stroke="#262626" stroke-width="0.35">20</text><text x="924" y="729.58" text-anchor="start" font-size="9.6" font-weight="normal" fill="#262626" letter-spacing="0.3" stroke="#262626" stroke-width="0.35">20</text><text x="573.5" y="710.65" text-anchor="end" font-size="9.6" font-weight="normal" fill="#262626" letter-spacing="0.3" stroke="#262626" stroke-width="0.35">40</text><text x="924" y="710.65" text-anchor="start" font-size="9.6" font-weight="normal" fill="#262626" letter-spacing="0.3" stroke="#262626" stroke-width="0.35">40</text><text x="573.5" y="691.72" text-anchor="end" font-size="9.6" font-weight="normal" fill="#262626" letter-spacing="0.3" stroke="#262626" stroke-width="0.35">60</text><text x="924" y="691.72" text-anchor="start" font-size="9.6" font-weight="normal" fill="#262626" letter-spacing="0.3" stroke="#262626" stroke-width="0.35">60</text><text x="573.5" y="671.6" text-anchor="end" font-size="9.6" font-weight="normal" fill="#262626" letter-spacing="0.3" stroke="#262626" stroke-width="0.35">80</text><text x="924" y="671.6" text-anchor="start" font-size="9.6" font-weight="normal" fill="#262626" letter-spacing="0.3" stroke="#262626" stroke-width="0.35">80</text><text x="533.9" y="672.6" text-anchor="start" font-size="11" font-weight="bold" fill="#222" textLength="24.4" lengthAdjust="spacingAndGlyphs">&#951; (%)</text><text x="939.5" y="672.6" text-anchor="start" font-size="11" font-weight="bold" fill="#222" textLength="22.5" lengthAdjust="spacingAndGlyphs">&#951; (%)</text><text x="770" y="690.3" text-anchor="start" font-size="11" font-weight="bold" fill="#222" textLength="24.4" lengthAdjust="spacingAndGlyphs">&#951; (%)</text><text x="581.5" y="760" text-anchor="middle" font-size="9.6" font-weight="normal" fill="#262626" letter-spacing="0.3" stroke="#262626" stroke-width="0.35">0</text><text x="623.31" y="760" text-anchor="middle" font-size="9.6" font-weight="normal" fill="#262626" letter-spacing="0.3" stroke="#262626" stroke-width="0.35">10</text><text x="665.12" y="760" text-anchor="middle" font-size="9.6" font-weight="normal" fill="#262626" letter-spacing="0.3" stroke="#262626" stroke-width="0.35">20</text><text x="706.94" y="760" text-anchor="middle" font-size="9.6" font-weight="normal" fill="#262626" letter-spacing="0.3" stroke="#262626" stroke-width="0.35">30</text><text x="748.75" y="760" text-anchor="middle" font-size="9.6" font-weight="normal" fill="#262626" letter-spacing="0.3" stroke="#262626" stroke-width="0.35">40</text><text x="790.56" y="760" text-anchor="middle" font-size="9.6" font-weight="normal" fill="#262626" letter-spacing="0.3" stroke="#262626" stroke-width="0.35">50</text><text x="832.38" y="760" text-anchor="middle" font-size="9.6" font-weight="normal" fill="#262626" letter-spacing="0.3" stroke="#262626" stroke-width="0.35">60</text><text x="874.19" y="760" text-anchor="middle" font-size="9.6" font-weight="normal" fill="#262626" letter-spacing="0.3" stroke="#262626" stroke-width="0.35">70</text><text x="916" y="760" text-anchor="middle" font-size="9.6" font-weight="normal" fill="#262626" letter-spacing="0.3" stroke="#262626" stroke-width="0.35">80</text><text x="929.3" y="760" text-anchor="start" font-size="11" font-weight="bold" fill="#222" textLength="42.7" lengthAdjust="spacingAndGlyphs">Q(m&#179;/h)</text></g><path d="M581.5 744.5 L585.68 741.98 L589.86 739.49 L594.04 737.06 L598.23 734.67 L602.41 732.33 L606.59 730.05 L610.77 727.8 L614.95 725.61 L619.13 723.47 L623.31 721.37 L627.49 719.32 L631.67 717.32 L635.86 715.37 L640.04 713.47 L644.22 711.61 L648.4 709.8 L652.58 708.04 L656.76 706.32 L660.94 704.65 L665.12 703.03 L669.31 701.45 L673.49 699.92 L677.67 698.44 L681.85 697.01 L686.03 695.62 L690.21 694.27 L694.39 692.98 L698.58 691.73 L702.76 690.52 L706.94 689.36 L711.12 688.25 L715.3 687.18 L719.48 686.16 L723.66 685.18 L727.84 684.24 L732.02 683.36 L736.21 682.51 L740.39 681.71 L744.57 680.96 L748.75 680.25 L752.93 679.59 L757.11 678.97 L761.29 678.39 L765.48 677.86 L769.66 677.37 L773.84 676.92 L778.02 676.52 L782.2 676.16 L786.38 675.85 L790.56 675.58 L794.74 675.35 L798.92 675.17 L803.11 675.02 L807.29 674.93 L811.47 674.87 L815.65 674.86 L819.83 674.88 L824.01 674.96 L828.19 675.07 L832.38 675.22 L836.56 675.42 L840.74 675.66 L844.92 675.94 L849.1 676.26 L853.28 676.63 L857.46 677.03 L861.64 677.48 L865.83 677.97 L870.01 678.5 L874.19 679.07 L878.37 679.68 L882.55 680.33" stroke="#222" stroke-width="1.3" fill="none"/>
</svg>
<svg style="position:absolute;left:0;top:850px" width="400" height="55" viewBox="0 850 400 55">
<polygon points="19.8,896.4 35,896.4 61.2,857 46,857" fill="#2152a3"/>
<polygon points="38.4,896.4 53.6,896.4 79.8,857 64.6,857" fill="#2152a3"/>
<polygon points="57.4,896.4 72.6,896.4 98.8,857 83.6,857" fill="#2152a3"/>
<polygon points="76.6,896.4 380.5,896.4 380.5,857 102.8,857" fill="#2152a3"/>
</svg>
<div style="position:absolute;left:122px;top:861px;font:bold 25px/30px 'Liberation Sans', sans-serif;color:#fff;letter-spacing:0.7px;white-space:nowrap">6SP60</div>
<div style="position:absolute;left:19px;top:913px;width:960.6px;height:397.8px;background:#fff;border:2px solid #2152a3;border-top:0;box-sizing:border-box"></div>
<div class="c" style="left:19px;top:913px;width:127.6px;height:106.14px;background:#2152a3;color:#fff;font-weight:bold;line-height:25px">Model<br>60Hz</div><div class="c" style="left:148.4px;top:913px;width:136.7px;height:106.14px;background:#2152a3;color:#fff;font-weight:bold;line-height:25px">Motor<br>Power</div><div class="c" style="left:286.9px;top:913px;width:67.4px;height:79.38px;background:#2152a3;color:#fff;font-weight:bold;line-height:25px;padding-top:4.5px">Three<br>Phase</div><div class="c" style="left:286.9px;top:994.18px;width:67.4px;height:24.96px;background:#2152a3;color:#fff;font-weight:bold">380V</div><div class="c" style="left:356.1px;top:913px;width:67.9px;height:25.86px;background:#2152a3;color:#fff;font-weight:bold">Q</div><div class="c" style="left:356.1px;top:940.66px;width:67.9px;height:24.96px;background:#2152a3;color:#fff;font-weight:bold">US.gpm</div><div class="c" style="left:356.1px;top:967.42px;width:67.9px;height:24.96px;background:#2152a3;color:#fff;font-weight:bold">m&#179;/h</div><div class="c" style="left:356.1px;top:994.18px;width:67.9px;height:24.96px;background:#2152a3;color:#fff;font-weight:bold">l/min</div><div class="c" style="left:425.8px;top:913px;width:553.8px;height:25.86px;background:#2152a3;color:#fff;font-weight:bold">Capacity</div><div class="c" style="left:425.8px;top:940.66px;width:67.1px;height:24.96px;background:#e8eff9;">0</div><div class="c" style="left:425.8px;top:967.42px;width:67.1px;height:24.96px;background:#fff;">0</div><div class="c" style="left:425.8px;top:994.18px;width:67.1px;height:24.96px;background:#e8eff9;">0</div><div class="c" style="left:494.7px;top:940.66px;width:67.6px;height:24.96px;background:#e8eff9;">106</div><div class="c" style="left:494.7px;top:967.42px;width:67.6px;height:24.96px;background:#fff;">24</div><div class="c" style="left:494.7px;top:994.18px;width:67.6px;height:24.96px;background:#e8eff9;">400</div><div class="c" style="left:564.1px;top:940.66px;width:67.6px;height:24.96px;background:#e8eff9;">158</div><div class="c" style="left:564.1px;top:967.42px;width:67.6px;height:24.96px;background:#fff;">36</div><div class="c" style="left:564.1px;top:994.18px;width:67.6px;height:24.96px;background:#e8eff9;">600</div><div class="c" style="left:633.5px;top:940.66px;width:67.6px;height:24.96px;background:#e8eff9;">211</div><div class="c" style="left:633.5px;top:967.42px;width:67.6px;height:24.96px;background:#fff;">48</div><div class="c" style="left:633.5px;top:994.18px;width:67.6px;height:24.96px;background:#e8eff9;">800</div><div class="c" style="left:702.9px;top:940.66px;width:67.6px;height:24.96px;background:#e8eff9;">238</div><div class="c" style="left:702.9px;top:967.42px;width:67.6px;height:24.96px;background:#fff;">54</div><div class="c" style="left:702.9px;top:994.18px;width:67.6px;height:24.96px;background:#e8eff9;">900</div><div class="c" style="left:772.3px;top:940.66px;width:67.6px;height:24.96px;background:#e8eff9;">264</div><div class="c" style="left:772.3px;top:967.42px;width:67.6px;height:24.96px;background:#fff;">60</div><div class="c" style="left:772.3px;top:994.18px;width:67.6px;height:24.96px;background:#e8eff9;">1000</div><div class="c" style="left:841.7px;top:940.66px;width:67.6px;height:24.96px;background:#e8eff9;">290</div><div class="c" style="left:841.7px;top:967.42px;width:67.6px;height:24.96px;background:#fff;">66</div><div class="c" style="left:841.7px;top:994.18px;width:67.6px;height:24.96px;background:#e8eff9;">1100</div><div class="c" style="left:911.1px;top:940.66px;width:65.9px;height:24.96px;background:#e8eff9;">317</div><div class="c" style="left:911.1px;top:967.42px;width:65.9px;height:24.96px;background:#fff;">72</div><div class="c" style="left:911.1px;top:994.18px;width:65.9px;height:24.96px;background:#e8eff9;">1200</div><div class="c" style="left:19px;top:1020.94px;width:127.6px;height:24.96px;background:#2152a3;"></div><div class="c" style="left:148.4px;top:1020.94px;width:67.2px;height:24.96px;background:#2152a3;color:#fff;font-weight:bold">HP</div><div class="c" style="left:217.4px;top:1020.94px;width:67.7px;height:24.96px;background:#2152a3;color:#fff;font-weight:bold">kW</div><div class="c" style="left:286.9px;top:1020.94px;width:67.4px;height:24.96px;background:#2152a3;color:#fff;font-weight:bold">A</div><div class="c" style="left:356.1px;top:1020.94px;width:623.5px;height:24.96px;background:#2152a3;color:#fff;font-weight:bold">Total head in meters</div><div class="c" style="left:356.1px;top:1047.7px;width:67.9px;height:260.5px;background:#e8eff9;"><span style="display:block;font-size:13.5px;line-height:17.5px;font-weight:bold">H<br>m</span></div><div class="c" style="left:21.6px;top:1047.7px;width:125px;height:24.6px;background:#e8eff9;font-weight:bold">6SP60-01</div><div class="c" style="left:148.4px;top:1047.7px;width:67.2px;height:24.6px;background:#e8eff9;">5.5</div><div class="c" style="left:217.4px;top:1047.7px;width:67.7px;height:24.6px;background:#e8eff9;">4</div><div class="c" style="left:286.9px;top:1047.7px;width:67.4px;height:24.6px;background:#e8eff9;">8.6</div><div class="c" style="left:425.8px;top:1047.7px;width:67.1px;height:24.6px;background:#e8eff9;">19.5</div><div class="c" style="left:494.7px;top:1047.7px;width:67.6px;height:24.6px;background:#e8eff9;">19</div><div class="c" style="left:564.1px;top:1047.7px;width:67.6px;height:24.6px;background:#e8eff9;">17.5</div><div class="c" style="left:633.5px;top:1047.7px;width:67.6px;height:24.6px;background:#e8eff9;">15.5</div><div class="c" style="left:702.9px;top:1047.7px;width:67.6px;height:24.6px;background:#e8eff9;">14.5</div><div class="c" style="left:772.3px;top:1047.7px;width:67.6px;height:24.6px;background:#e8eff9;">14</div><div class="c" style="left:841.7px;top:1047.7px;width:67.6px;height:24.6px;background:#e8eff9;">13</div><div class="c" style="left:911.1px;top:1047.7px;width:65.9px;height:24.6px;background:#e8eff9;">12</div><div class="c" style="left:21.6px;top:1074.1px;width:125px;height:24.6px;background:#fff;font-weight:bold">6SP60-02</div><div class="c" style="left:148.4px;top:1074.1px;width:67.2px;height:24.6px;background:#fff;">7.5</div><div class="c" style="left:217.4px;top:1074.1px;width:67.7px;height:24.6px;background:#fff;">5.5</div><div class="c" style="left:286.9px;top:1074.1px;width:67.4px;height:24.6px;background:#fff;">11.9</div><div class="c" style="left:425.8px;top:1074.1px;width:67.1px;height:24.6px;background:#fff;">39</div><div class="c" style="left:494.7px;top:1074.1px;width:67.6px;height:24.6px;background:#fff;">38</div><div class="c" style="left:564.1px;top:1074.1px;width:67.6px;height:24.6px;background:#fff;">35</div><div class="c" style="left:633.5px;top:1074.1px;width:67.6px;height:24.6px;background:#fff;">31</div><div class="c" style="left:702.9px;top:1074.1px;width:67.6px;height:24.6px;background:#fff;">29</div><div class="c" style="left:772.3px;top:1074.1px;width:67.6px;height:24.6px;background:#fff;">28</div><div class="c" style="left:841.7px;top:1074.1px;width:67.6px;height:24.6px;background:#fff;">26</div><div class="c" style="left:911.1px;top:1074.1px;width:65.9px;height:24.6px;background:#fff;">24</div><div class="c" style="left:21.6px;top:1100.5px;width:125px;height:24.6px;background:#e8eff9;font-weight:bold">6SP60-03</div><div class="c" style="left:148.4px;top:1100.5px;width:67.2px;height:24.6px;background:#e8eff9;">12.5</div><div class="c" style="left:217.4px;top:1100.5px;width:67.7px;height:24.6px;background:#e8eff9;">9.2</div><div class="c" style="left:286.9px;top:1100.5px;width:67.4px;height:24.6px;background:#e8eff9;">18.4</div><div class="c" style="left:425.8px;top:1100.5px;width:67.1px;height:24.6px;background:#e8eff9;">59</div><div class="c" style="left:494.7px;top:1100.5px;width:67.6px;height:24.6px;background:#e8eff9;">58</div><div class="c" style="left:564.1px;top:1100.5px;width:67.6px;height:24.6px;background:#e8eff9;">52</div><div class="c" style="left:633.5px;top:1100.5px;width:67.6px;height:24.6px;background:#e8eff9;">47</div><div class="c" style="left:702.9px;top:1100.5px;width:67.6px;height:24.6px;background:#e8eff9;">43</div><div class="c" style="left:772.3px;top:1100.5px;width:67.6px;height:24.6px;background:#e8eff9;">42</div><div class="c" style="left:841.7px;top:1100.5px;width:67.6px;height:24.6px;background:#e8eff9;">40</div><div class="c" style="left:911.1px;top:1100.5px;width:65.9px;height:24.6px;background:#e8eff9;">36</div><div class="c" style="left:21.6px;top:1126.9px;width:125px;height:24.6px;background:#fff;font-weight:bold">6SP60-04</div><div class="c" style="left:148.4px;top:1126.9px;width:67.2px;height:24.6px;background:#fff;">15</div><div class="c" style="left:217.4px;top:1126.9px;width:67.7px;height:24.6px;background:#fff;">11</div><div class="c" style="left:286.9px;top:1126.9px;width:67.4px;height:24.6px;background:#fff;">21.6</div><div class="c" style="left:425.8px;top:1126.9px;width:67.1px;height:24.6px;background:#fff;">79</div><div class="c" style="left:494.7px;top:1126.9px;width:67.6px;height:24.6px;background:#fff;">77</div><div class="c" style="left:564.1px;top:1126.9px;width:67.6px;height:24.6px;background:#fff;">70</div><div class="c" style="left:633.5px;top:1126.9px;width:67.6px;height:24.6px;background:#fff;">62</div><div class="c" style="left:702.9px;top:1126.9px;width:67.6px;height:24.6px;background:#fff;">58</div><div class="c" style="left:772.3px;top:1126.9px;width:67.6px;height:24.6px;background:#fff;">55</div><div class="c" style="left:841.7px;top:1126.9px;width:67.6px;height:24.6px;background:#fff;">53</div><div class="c" style="left:911.1px;top:1126.9px;width:65.9px;height:24.6px;background:#fff;">49</div><div class="c" style="left:21.6px;top:1153.3px;width:125px;height:24.6px;background:#e8eff9;font-weight:bold">6SP60-05</div><div class="c" style="left:148.4px;top:1153.3px;width:67.2px;height:24.6px;background:#e8eff9;">18</div><div class="c" style="left:217.4px;top:1153.3px;width:67.7px;height:24.6px;background:#e8eff9;">13</div><div class="c" style="left:286.9px;top:1153.3px;width:67.4px;height:24.6px;background:#e8eff9;">25.4</div><div class="c" style="left:425.8px;top:1153.3px;width:67.1px;height:24.6px;background:#e8eff9;">99</div><div class="c" style="left:494.7px;top:1153.3px;width:67.6px;height:24.6px;background:#e8eff9;">96</div><div class="c" style="left:564.1px;top:1153.3px;width:67.6px;height:24.6px;background:#e8eff9;">87</div><div class="c" style="left:633.5px;top:1153.3px;width:67.6px;height:24.6px;background:#e8eff9;">78</div><div class="c" style="left:702.9px;top:1153.3px;width:67.6px;height:24.6px;background:#e8eff9;">72</div><div class="c" style="left:772.3px;top:1153.3px;width:67.6px;height:24.6px;background:#e8eff9;">70</div><div class="c" style="left:841.7px;top:1153.3px;width:67.6px;height:24.6px;background:#e8eff9;">66</div><div class="c" style="left:911.1px;top:1153.3px;width:65.9px;height:24.6px;background:#e8eff9;">61</div><div class="c" style="left:21.6px;top:1179.7px;width:125px;height:24.6px;background:#fff;font-weight:bold">6SP60-06</div><div class="c" style="left:148.4px;top:1179.7px;width:67.2px;height:24.6px;background:#fff;">25</div><div class="c" style="left:217.4px;top:1179.7px;width:67.7px;height:24.6px;background:#fff;">18.5</div><div class="c" style="left:286.9px;top:1179.7px;width:67.4px;height:24.6px;background:#fff;">34.5</div><div class="c" style="left:425.8px;top:1179.7px;width:67.1px;height:24.6px;background:#fff;">119</div><div class="c" style="left:494.7px;top:1179.7px;width:67.6px;height:24.6px;background:#fff;">116</div><div class="c" style="left:564.1px;top:1179.7px;width:67.6px;height:24.6px;background:#fff;">105</div><div class="c" style="left:633.5px;top:1179.7px;width:67.6px;height:24.6px;background:#fff;">93</div><div class="c" style="left:702.9px;top:1179.7px;width:67.6px;height:24.6px;background:#fff;">87</div><div class="c" style="left:772.3px;top:1179.7px;width:67.6px;height:24.6px;background:#fff;">83</div><div class="c" style="left:841.7px;top:1179.7px;width:67.6px;height:24.6px;background:#fff;">80</div><div class="c" style="left:911.1px;top:1179.7px;width:65.9px;height:24.6px;background:#fff;">73</div><div class="c" style="left:21.6px;top:1206.1px;width:125px;height:24.6px;background:#e8eff9;font-weight:bold">6SP60-07</div><div class="c" style="left:148.4px;top:1206.1px;width:67.2px;height:24.6px;background:#e8eff9;">25</div><div class="c" style="left:217.4px;top:1206.1px;width:67.7px;height:24.6px;background:#e8eff9;">18.5</div><div class="c" style="left:286.9px;top:1206.1px;width:67.4px;height:24.6px;background:#e8eff9;">34.5</div><div class="c" style="left:425.8px;top:1206.1px;width:67.1px;height:24.6px;background:#e8eff9;">138</div><div class="c" style="left:494.7px;top:1206.1px;width:67.6px;height:24.6px;background:#e8eff9;">135</div><div class="c" style="left:564.1px;top:1206.1px;width:67.6px;height:24.6px;background:#e8eff9;">122</div><div class="c" style="left:633.5px;top:1206.1px;width:67.6px;height:24.6px;background:#e8eff9;">109</div><div class="c" style="left:702.9px;top:1206.1px;width:67.6px;height:24.6px;background:#e8eff9;">101</div><div class="c" style="left:772.3px;top:1206.1px;width:67.6px;height:24.6px;background:#e8eff9;">97</div><div class="c" style="left:841.7px;top:1206.1px;width:67.6px;height:24.6px;background:#e8eff9;">93</div><div class="c" style="left:911.1px;top:1206.1px;width:65.9px;height:24.6px;background:#e8eff9;">85</div><div class="c" style="left:21.6px;top:1232.5px;width:125px;height:24.6px;background:#fff;font-weight:bold">6SP60-08</div><div class="c" style="left:148.4px;top:1232.5px;width:67.2px;height:24.6px;background:#fff;">30</div><div class="c" style="left:217.4px;top:1232.5px;width:67.7px;height:24.6px;background:#fff;">22</div><div class="c" style="left:286.9px;top:1232.5px;width:67.4px;height:24.6px;background:#fff;">40.8</div><div class="c" style="left:425.8px;top:1232.5px;width:67.1px;height:24.6px;background:#fff;">158</div><div class="c" style="left:494.7px;top:1232.5px;width:67.6px;height:24.6px;background:#fff;">154</div><div class="c" style="left:564.1px;top:1232.5px;width:67.6px;height:24.6px;background:#fff;">140</div><div class="c" style="left:633.5px;top:1232.5px;width:67.6px;height:24.6px;background:#fff;">125</div><div class="c" style="left:702.9px;top:1232.5px;width:67.6px;height:24.6px;background:#fff;">116</div><div class="c" style="left:772.3px;top:1232.5px;width:67.6px;height:24.6px;background:#fff;">111</div><div class="c" style="left:841.7px;top:1232.5px;width:67.6px;height:24.6px;background:#fff;">106</div><div class="c" style="left:911.1px;top:1232.5px;width:65.9px;height:24.6px;background:#fff;">97</div><div class="c" style="left:21.6px;top:1258.9px;width:125px;height:24.6px;background:#e8eff9;font-weight:bold">6SP60-09</div><div class="c" style="left:148.4px;top:1258.9px;width:67.2px;height:24.6px;background:#e8eff9;">35</div><div class="c" style="left:217.4px;top:1258.9px;width:67.7px;height:24.6px;background:#e8eff9;">26</div><div class="c" style="left:286.9px;top:1258.9px;width:67.4px;height:24.6px;background:#e8eff9;">48</div><div class="c" style="left:425.8px;top:1258.9px;width:67.1px;height:24.6px;background:#e8eff9;">178</div><div class="c" style="left:494.7px;top:1258.9px;width:67.6px;height:24.6px;background:#e8eff9;">174</div><div class="c" style="left:564.1px;top:1258.9px;width:67.6px;height:24.6px;background:#e8eff9;">157</div><div class="c" style="left:633.5px;top:1258.9px;width:67.6px;height:24.6px;background:#e8eff9;">140</div><div class="c" style="left:702.9px;top:1258.9px;width:67.6px;height:24.6px;background:#e8eff9;">130</div><div class="c" style="left:772.3px;top:1258.9px;width:67.6px;height:24.6px;background:#e8eff9;">125</div><div class="c" style="left:841.7px;top:1258.9px;width:67.6px;height:24.6px;background:#e8eff9;">120</div><div class="c" style="left:911.1px;top:1258.9px;width:65.9px;height:24.6px;background:#e8eff9;">110</div><div class="c" style="left:21.6px;top:1285.3px;width:125px;height:22.9px;background:#fff;font-weight:bold">6SP60-10</div><div class="c" style="left:148.4px;top:1285.3px;width:67.2px;height:22.9px;background:#fff;">35</div><div class="c" style="left:217.4px;top:1285.3px;width:67.7px;height:22.9px;background:#fff;">26</div><div class="c" style="left:286.9px;top:1285.3px;width:67.4px;height:22.9px;background:#fff;">48</div><div class="c" style="left:425.8px;top:1285.3px;width:67.1px;height:22.9px;background:#fff;">193</div><div class="c" style="left:494.7px;top:1285.3px;width:67.6px;height:22.9px;background:#fff;">193</div><div class="c" style="left:564.1px;top:1285.3px;width:67.6px;height:22.9px;background:#fff;">175</div><div class="c" style="left:633.5px;top:1285.3px;width:67.6px;height:22.9px;background:#fff;">156</div><div class="c" style="left:702.9px;top:1285.3px;width:67.6px;height:22.9px;background:#fff;">145</div><div class="c" style="left:772.3px;top:1285.3px;width:67.6px;height:22.9px;background:#fff;">139</div><div class="c" style="left:841.7px;top:1285.3px;width:67.6px;height:22.9px;background:#fff;">133</div><div class="c" style="left:911.1px;top:1285.3px;width:65.9px;height:22.9px;background:#fff;">122</div>
<div style="position:absolute;left:19px;top:1329px;width:960.6px;height:424.2px;background:#fff;border:2px solid #2152a3;border-top:0;box-sizing:border-box"></div>
<div class="c" style="left:19px;top:1329px;width:127.6px;height:106.14px;background:#2152a3;color:#fff;font-weight:bold;line-height:25px">Model<br>60Hz</div><div class="c" style="left:148.4px;top:1329px;width:136.7px;height:106.14px;background:#2152a3;color:#fff;font-weight:bold;line-height:25px">Motor<br>Power</div><div class="c" style="left:286.9px;top:1329px;width:67.4px;height:79.38px;background:#2152a3;color:#fff;font-weight:bold;line-height:25px;padding-top:4.5px">Three<br>Phase</div><div class="c" style="left:286.9px;top:1410.18px;width:67.4px;height:24.96px;background:#2152a3;color:#fff;font-weight:bold">380V</div><div class="c" style="left:356.1px;top:1329px;width:67.9px;height:25.86px;background:#2152a3;color:#fff;font-weight:bold">Q</div><div class="c" style="left:356.1px;top:1356.66px;width:67.9px;height:24.96px;background:#2152a3;color:#fff;font-weight:bold">US.gpm</div><div class="c" style="left:356.1px;top:1383.42px;width:67.9px;height:24.96px;background:#2152a3;color:#fff;font-weight:bold">m&#179;/h</div><div class="c" style="left:356.1px;top:1410.18px;width:67.9px;height:24.96px;background:#2152a3;color:#fff;font-weight:bold">l/min</div><div class="c" style="left:425.8px;top:1329px;width:553.8px;height:25.86px;background:#2152a3;color:#fff;font-weight:bold">Capacity</div><div class="c" style="left:425.8px;top:1356.66px;width:67.1px;height:24.96px;background:#e8eff9;">0</div><div class="c" style="left:425.8px;top:1383.42px;width:67.1px;height:24.96px;background:#fff;">0</div><div class="c" style="left:425.8px;top:1410.18px;width:67.1px;height:24.96px;background:#e8eff9;">0</div><div class="c" style="left:494.7px;top:1356.66px;width:67.6px;height:24.96px;background:#e8eff9;">106</div><div class="c" style="left:494.7px;top:1383.42px;width:67.6px;height:24.96px;background:#fff;">24</div><div class="c" style="left:494.7px;top:1410.18px;width:67.6px;height:24.96px;background:#e8eff9;">400</div><div class="c" style="left:564.1px;top:1356.66px;width:67.6px;height:24.96px;background:#e8eff9;">158</div><div class="c" style="left:564.1px;top:1383.42px;width:67.6px;height:24.96px;background:#fff;">36</div><div class="c" style="left:564.1px;top:1410.18px;width:67.6px;height:24.96px;background:#e8eff9;">600</div><div class="c" style="left:633.5px;top:1356.66px;width:67.6px;height:24.96px;background:#e8eff9;">211</div><div class="c" style="left:633.5px;top:1383.42px;width:67.6px;height:24.96px;background:#fff;">48</div><div class="c" style="left:633.5px;top:1410.18px;width:67.6px;height:24.96px;background:#e8eff9;">800</div><div class="c" style="left:702.9px;top:1356.66px;width:67.6px;height:24.96px;background:#e8eff9;">238</div><div class="c" style="left:702.9px;top:1383.42px;width:67.6px;height:24.96px;background:#fff;">54</div><div class="c" style="left:702.9px;top:1410.18px;width:67.6px;height:24.96px;background:#e8eff9;">900</div><div class="c" style="left:772.3px;top:1356.66px;width:67.6px;height:24.96px;background:#e8eff9;">264</div><div class="c" style="left:772.3px;top:1383.42px;width:67.6px;height:24.96px;background:#fff;">60</div><div class="c" style="left:772.3px;top:1410.18px;width:67.6px;height:24.96px;background:#e8eff9;">1000</div><div class="c" style="left:841.7px;top:1356.66px;width:67.6px;height:24.96px;background:#e8eff9;">290</div><div class="c" style="left:841.7px;top:1383.42px;width:67.6px;height:24.96px;background:#fff;">66</div><div class="c" style="left:841.7px;top:1410.18px;width:67.6px;height:24.96px;background:#e8eff9;">1100</div><div class="c" style="left:911.1px;top:1356.66px;width:65.9px;height:24.96px;background:#e8eff9;">317</div><div class="c" style="left:911.1px;top:1383.42px;width:65.9px;height:24.96px;background:#fff;">72</div><div class="c" style="left:911.1px;top:1410.18px;width:65.9px;height:24.96px;background:#e8eff9;">1200</div><div class="c" style="left:19px;top:1436.94px;width:127.6px;height:24.96px;background:#2152a3;"></div><div class="c" style="left:148.4px;top:1436.94px;width:67.2px;height:24.96px;background:#2152a3;color:#fff;font-weight:bold">HP</div><div class="c" style="left:217.4px;top:1436.94px;width:67.7px;height:24.96px;background:#2152a3;color:#fff;font-weight:bold">kW</div><div class="c" style="left:286.9px;top:1436.94px;width:67.4px;height:24.96px;background:#2152a3;color:#fff;font-weight:bold">A</div><div class="c" style="left:356.1px;top:1436.94px;width:623.5px;height:24.96px;background:#2152a3;color:#fff;font-weight:bold">Total head in meters</div><div class="c" style="left:356.1px;top:1463.7px;width:67.9px;height:286.9px;background:#e8eff9;"><span style="display:block;font-size:13.5px;line-height:17.5px;font-weight:bold">H<br>m</span></div><div class="c" style="left:21.6px;top:1463.7px;width:125px;height:24.6px;background:#e8eff9;font-weight:bold">6SP60-11</div><div class="c" style="left:148.4px;top:1463.7px;width:67.2px;height:24.6px;background:#e8eff9;">40</div><div class="c" style="left:217.4px;top:1463.7px;width:67.7px;height:24.6px;background:#e8eff9;">30</div><div class="c" style="left:286.9px;top:1463.7px;width:67.4px;height:24.6px;background:#e8eff9;">56</div><div class="c" style="left:425.8px;top:1463.7px;width:67.1px;height:24.6px;background:#e8eff9;">212</div><div class="c" style="left:494.7px;top:1463.7px;width:67.6px;height:24.6px;background:#e8eff9;">212</div><div class="c" style="left:564.1px;top:1463.7px;width:67.6px;height:24.6px;background:#e8eff9;">193</div><div class="c" style="left:633.5px;top:1463.7px;width:67.6px;height:24.6px;background:#e8eff9;">172</div><div class="c" style="left:702.9px;top:1463.7px;width:67.6px;height:24.6px;background:#e8eff9;">160</div><div class="c" style="left:772.3px;top:1463.7px;width:67.6px;height:24.6px;background:#e8eff9;">153</div><div class="c" style="left:841.7px;top:1463.7px;width:67.6px;height:24.6px;background:#e8eff9;">146</div><div class="c" style="left:911.1px;top:1463.7px;width:65.9px;height:24.6px;background:#e8eff9;">134</div><div class="c" style="left:21.6px;top:1490.1px;width:125px;height:24.6px;background:#fff;font-weight:bold">6SP60-12</div><div class="c" style="left:148.4px;top:1490.1px;width:67.2px;height:24.6px;background:#fff;">50</div><div class="c" style="left:217.4px;top:1490.1px;width:67.7px;height:24.6px;background:#fff;">37</div><div class="c" style="left:286.9px;top:1490.1px;width:67.4px;height:24.6px;background:#fff;">71</div><div class="c" style="left:425.8px;top:1490.1px;width:67.1px;height:24.6px;background:#fff;">232</div><div class="c" style="left:494.7px;top:1490.1px;width:67.6px;height:24.6px;background:#fff;">232</div><div class="c" style="left:564.1px;top:1490.1px;width:67.6px;height:24.6px;background:#fff;">210</div><div class="c" style="left:633.5px;top:1490.1px;width:67.6px;height:24.6px;background:#fff;">187</div><div class="c" style="left:702.9px;top:1490.1px;width:67.6px;height:24.6px;background:#fff;">174</div><div class="c" style="left:772.3px;top:1490.1px;width:67.6px;height:24.6px;background:#fff;">167</div><div class="c" style="left:841.7px;top:1490.1px;width:67.6px;height:24.6px;background:#fff;">160</div><div class="c" style="left:911.1px;top:1490.1px;width:65.9px;height:24.6px;background:#fff;">146</div><div class="c" style="left:21.6px;top:1516.5px;width:125px;height:24.6px;background:#e8eff9;font-weight:bold">6SP60-13</div><div class="c" style="left:148.4px;top:1516.5px;width:67.2px;height:24.6px;background:#e8eff9;">50</div><div class="c" style="left:217.4px;top:1516.5px;width:67.7px;height:24.6px;background:#e8eff9;">37</div><div class="c" style="left:286.9px;top:1516.5px;width:67.4px;height:24.6px;background:#e8eff9;">71</div><div class="c" style="left:425.8px;top:1516.5px;width:67.1px;height:24.6px;background:#e8eff9;">251</div><div class="c" style="left:494.7px;top:1516.5px;width:67.6px;height:24.6px;background:#e8eff9;">251</div><div class="c" style="left:564.1px;top:1516.5px;width:67.6px;height:24.6px;background:#e8eff9;">228</div><div class="c" style="left:633.5px;top:1516.5px;width:67.6px;height:24.6px;background:#e8eff9;">203</div><div class="c" style="left:702.9px;top:1516.5px;width:67.6px;height:24.6px;background:#e8eff9;">189</div><div class="c" style="left:772.3px;top:1516.5px;width:67.6px;height:24.6px;background:#e8eff9;">181</div><div class="c" style="left:841.7px;top:1516.5px;width:67.6px;height:24.6px;background:#e8eff9;">173</div><div class="c" style="left:911.1px;top:1516.5px;width:65.9px;height:24.6px;background:#e8eff9;">159</div><div class="c" style="left:21.6px;top:1542.9px;width:125px;height:24.6px;background:#fff;font-weight:bold">6SP60-14</div><div class="c" style="left:148.4px;top:1542.9px;width:67.2px;height:24.6px;background:#fff;">50</div><div class="c" style="left:217.4px;top:1542.9px;width:67.7px;height:24.6px;background:#fff;">37</div><div class="c" style="left:286.9px;top:1542.9px;width:67.4px;height:24.6px;background:#fff;">71</div><div class="c" style="left:425.8px;top:1542.9px;width:67.1px;height:24.6px;background:#fff;">270</div><div class="c" style="left:494.7px;top:1542.9px;width:67.6px;height:24.6px;background:#fff;">270</div><div class="c" style="left:564.1px;top:1542.9px;width:67.6px;height:24.6px;background:#fff;">245</div><div class="c" style="left:633.5px;top:1542.9px;width:67.6px;height:24.6px;background:#fff;">218</div><div class="c" style="left:702.9px;top:1542.9px;width:67.6px;height:24.6px;background:#fff;">203</div><div class="c" style="left:772.3px;top:1542.9px;width:67.6px;height:24.6px;background:#fff;">195</div><div class="c" style="left:841.7px;top:1542.9px;width:67.6px;height:24.6px;background:#fff;">186</div><div class="c" style="left:911.1px;top:1542.9px;width:65.9px;height:24.6px;background:#fff;">171</div><div class="c" style="left:21.6px;top:1569.3px;width:125px;height:24.6px;background:#e8eff9;font-weight:bold">6SP60-15</div><div class="c" style="left:148.4px;top:1569.3px;width:67.2px;height:24.6px;background:#e8eff9;">60</div><div class="c" style="left:217.4px;top:1569.3px;width:67.7px;height:24.6px;background:#e8eff9;">45</div><div class="c" style="left:286.9px;top:1569.3px;width:67.4px;height:24.6px;background:#e8eff9;">91.4</div><div class="c" style="left:425.8px;top:1569.3px;width:67.1px;height:24.6px;background:#e8eff9;">290</div><div class="c" style="left:494.7px;top:1569.3px;width:67.6px;height:24.6px;background:#e8eff9;">290</div><div class="c" style="left:564.1px;top:1569.3px;width:67.6px;height:24.6px;background:#e8eff9;">263</div><div class="c" style="left:633.5px;top:1569.3px;width:67.6px;height:24.6px;background:#e8eff9;">234</div><div class="c" style="left:702.9px;top:1569.3px;width:67.6px;height:24.6px;background:#e8eff9;">218</div><div class="c" style="left:772.3px;top:1569.3px;width:67.6px;height:24.6px;background:#e8eff9;">209</div><div class="c" style="left:841.7px;top:1569.3px;width:67.6px;height:24.6px;background:#e8eff9;">200</div><div class="c" style="left:911.1px;top:1569.3px;width:65.9px;height:24.6px;background:#e8eff9;">183</div><div class="c" style="left:21.6px;top:1595.7px;width:125px;height:24.6px;background:#fff;font-weight:bold">6SP60-16</div><div class="c" style="left:148.4px;top:1595.7px;width:67.2px;height:24.6px;background:#fff;">60</div><div class="c" style="left:217.4px;top:1595.7px;width:67.7px;height:24.6px;background:#fff;">45</div><div class="c" style="left:286.9px;top:1595.7px;width:67.4px;height:24.6px;background:#fff;">91.4</div><div class="c" style="left:425.8px;top:1595.7px;width:67.1px;height:24.6px;background:#fff;">309</div><div class="c" style="left:494.7px;top:1595.7px;width:67.6px;height:24.6px;background:#fff;">309</div><div class="c" style="left:564.1px;top:1595.7px;width:67.6px;height:24.6px;background:#fff;">280</div><div class="c" style="left:633.5px;top:1595.7px;width:67.6px;height:24.6px;background:#fff;">250</div><div class="c" style="left:702.9px;top:1595.7px;width:67.6px;height:24.6px;background:#fff;">232</div><div class="c" style="left:772.3px;top:1595.7px;width:67.6px;height:24.6px;background:#fff;">222</div><div class="c" style="left:841.7px;top:1595.7px;width:67.6px;height:24.6px;background:#fff;">213</div><div class="c" style="left:911.1px;top:1595.7px;width:65.9px;height:24.6px;background:#fff;">195</div><div class="c" style="left:21.6px;top:1622.1px;width:125px;height:24.6px;background:#e8eff9;font-weight:bold">6SP60-17</div><div class="c" style="left:148.4px;top:1622.1px;width:67.2px;height:24.6px;background:#e8eff9;">60</div><div class="c" style="left:217.4px;top:1622.1px;width:67.7px;height:24.6px;background:#e8eff9;">45</div><div class="c" style="left:286.9px;top:1622.1px;width:67.4px;height:24.6px;background:#e8eff9;">91.4</div><div class="c" style="left:425.8px;top:1622.1px;width:67.1px;height:24.6px;background:#e8eff9;">328</div><div class="c" style="left:494.7px;top:1622.1px;width:67.6px;height:24.6px;background:#e8eff9;">328</div><div class="c" style="left:564.1px;top:1622.1px;width:67.6px;height:24.6px;background:#e8eff9;">298</div><div class="c" style="left:633.5px;top:1622.1px;width:67.6px;height:24.6px;background:#e8eff9;">265</div><div class="c" style="left:702.9px;top:1622.1px;width:67.6px;height:24.6px;background:#e8eff9;">247</div><div class="c" style="left:772.3px;top:1622.1px;width:67.6px;height:24.6px;background:#e8eff9;">236</div><div class="c" style="left:841.7px;top:1622.1px;width:67.6px;height:24.6px;background:#e8eff9;">226</div><div class="c" style="left:911.1px;top:1622.1px;width:65.9px;height:24.6px;background:#e8eff9;">207</div><div class="c" style="left:21.6px;top:1648.5px;width:125px;height:24.6px;background:#fff;font-weight:bold">6SP60-18</div><div class="c" style="left:148.4px;top:1648.5px;width:67.2px;height:24.6px;background:#fff;">75</div><div class="c" style="left:217.4px;top:1648.5px;width:67.7px;height:24.6px;background:#fff;">55</div><div class="c" style="left:286.9px;top:1648.5px;width:67.4px;height:24.6px;background:#fff;">117</div><div class="c" style="left:425.8px;top:1648.5px;width:67.1px;height:24.6px;background:#fff;">347</div><div class="c" style="left:494.7px;top:1648.5px;width:67.6px;height:24.6px;background:#fff;">347</div><div class="c" style="left:564.1px;top:1648.5px;width:67.6px;height:24.6px;background:#fff;">315</div><div class="c" style="left:633.5px;top:1648.5px;width:67.6px;height:24.6px;background:#fff;">281</div><div class="c" style="left:702.9px;top:1648.5px;width:67.6px;height:24.6px;background:#fff;">261</div><div class="c" style="left:772.3px;top:1648.5px;width:67.6px;height:24.6px;background:#fff;">250</div><div class="c" style="left:841.7px;top:1648.5px;width:67.6px;height:24.6px;background:#fff;">239</div><div class="c" style="left:911.1px;top:1648.5px;width:65.9px;height:24.6px;background:#fff;">220</div><div class="c" style="left:21.6px;top:1674.9px;width:125px;height:24.6px;background:#e8eff9;font-weight:bold">6SP60-19</div><div class="c" style="left:148.4px;top:1674.9px;width:67.2px;height:24.6px;background:#e8eff9;">75</div><div class="c" style="left:217.4px;top:1674.9px;width:67.7px;height:24.6px;background:#e8eff9;">55</div><div class="c" style="left:286.9px;top:1674.9px;width:67.4px;height:24.6px;background:#e8eff9;">117</div><div class="c" style="left:425.8px;top:1674.9px;width:67.1px;height:24.6px;background:#e8eff9;">367</div><div class="c" style="left:494.7px;top:1674.9px;width:67.6px;height:24.6px;background:#e8eff9;">367</div><div class="c" style="left:564.1px;top:1674.9px;width:67.6px;height:24.6px;background:#e8eff9;">333</div><div class="c" style="left:633.5px;top:1674.9px;width:67.6px;height:24.6px;background:#e8eff9;">296</div><div class="c" style="left:702.9px;top:1674.9px;width:67.6px;height:24.6px;background:#e8eff9;">276</div><div class="c" style="left:772.3px;top:1674.9px;width:67.6px;height:24.6px;background:#e8eff9;">264</div><div class="c" style="left:841.7px;top:1674.9px;width:67.6px;height:24.6px;background:#e8eff9;">253</div><div class="c" style="left:911.1px;top:1674.9px;width:65.9px;height:24.6px;background:#e8eff9;">232</div><div class="c" style="left:21.6px;top:1701.3px;width:125px;height:24.6px;background:#fff;font-weight:bold">6SP60-20</div><div class="c" style="left:148.4px;top:1701.3px;width:67.2px;height:24.6px;background:#fff;">75</div><div class="c" style="left:217.4px;top:1701.3px;width:67.7px;height:24.6px;background:#fff;">55</div><div class="c" style="left:286.9px;top:1701.3px;width:67.4px;height:24.6px;background:#fff;">117</div><div class="c" style="left:425.8px;top:1701.3px;width:67.1px;height:24.6px;background:#fff;">386</div><div class="c" style="left:494.7px;top:1701.3px;width:67.6px;height:24.6px;background:#fff;">386</div><div class="c" style="left:564.1px;top:1701.3px;width:67.6px;height:24.6px;background:#fff;">350</div><div class="c" style="left:633.5px;top:1701.3px;width:67.6px;height:24.6px;background:#fff;">312</div><div class="c" style="left:702.9px;top:1701.3px;width:67.6px;height:24.6px;background:#fff;">290</div><div class="c" style="left:772.3px;top:1701.3px;width:67.6px;height:24.6px;background:#fff;">278</div><div class="c" style="left:841.7px;top:1701.3px;width:67.6px;height:24.6px;background:#fff;">266</div><div class="c" style="left:911.1px;top:1701.3px;width:65.9px;height:24.6px;background:#fff;">244</div><div class="c" style="left:21.6px;top:1727.7px;width:125px;height:22.9px;background:#e8eff9;font-weight:bold">6SP60-21</div><div class="c" style="left:148.4px;top:1727.7px;width:67.2px;height:22.9px;background:#e8eff9;">85</div><div class="c" style="left:217.4px;top:1727.7px;width:67.7px;height:22.9px;background:#e8eff9;">63</div><div class="c" style="left:286.9px;top:1727.7px;width:67.4px;height:22.9px;background:#e8eff9;">132</div><div class="c" style="left:425.8px;top:1727.7px;width:67.1px;height:22.9px;background:#e8eff9;">405</div><div class="c" style="left:494.7px;top:1727.7px;width:67.6px;height:22.9px;background:#e8eff9;">405</div><div class="c" style="left:564.1px;top:1727.7px;width:67.6px;height:22.9px;background:#e8eff9;">368</div><div class="c" style="left:633.5px;top:1727.7px;width:67.6px;height:22.9px;background:#e8eff9;">328</div><div class="c" style="left:702.9px;top:1727.7px;width:67.6px;height:22.9px;background:#e8eff9;">305</div><div class="c" style="left:772.3px;top:1727.7px;width:67.6px;height:22.9px;background:#e8eff9;">292</div><div class="c" style="left:841.7px;top:1727.7px;width:67.6px;height:22.9px;background:#e8eff9;">279</div><div class="c" style="left:911.1px;top:1727.7px;width:65.9px;height:22.9px;background:#e8eff9;">256</div>
</body></html>
